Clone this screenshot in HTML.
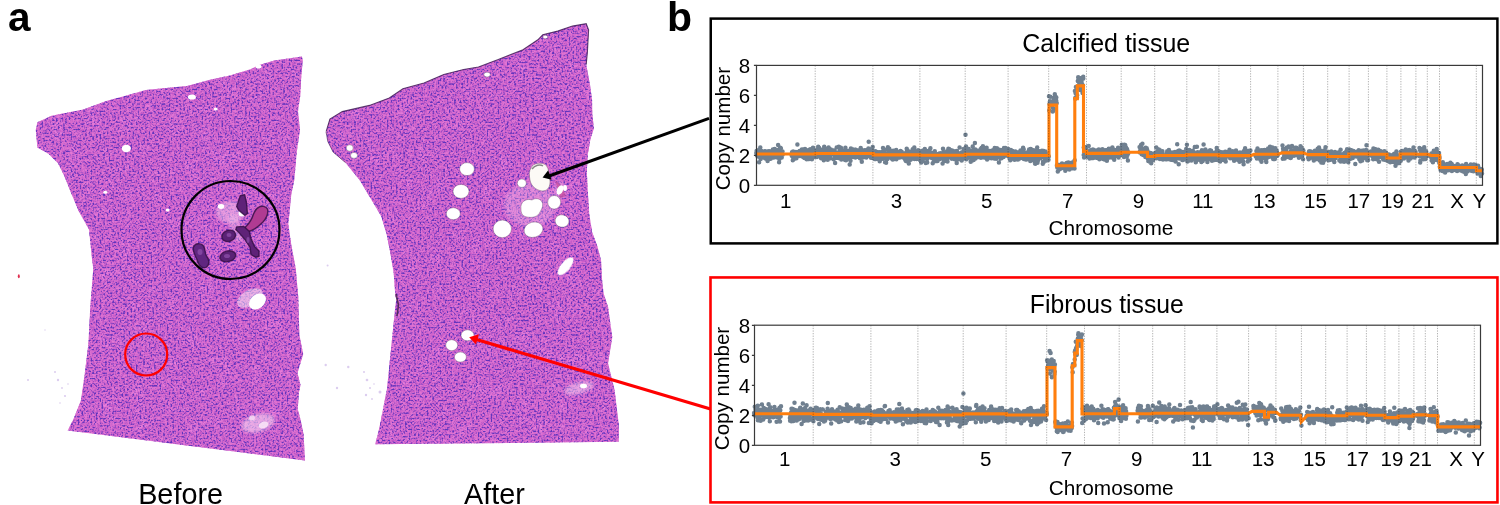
<!DOCTYPE html>
<html><head><meta charset="utf-8"><title>Figure</title>
<style>
html,body{margin:0;padding:0;background:#fff;}
body{width:1500px;height:505px;overflow:hidden;position:relative;}
svg{position:absolute;left:0;top:0;}
text{font-family:"Liberation Sans",Arial,Helvetica,sans-serif;fill:#000;}
</style></head><body>
<svg width="1500" height="505" viewBox="0 0 1500 505">
<defs>
<filter id="tex" color-interpolation-filters="sRGB" x="0" y="0" width="1500" height="505" filterUnits="userSpaceOnUse">
<feTurbulence type="fractalNoise" baseFrequency="0.4" numOctaves="2" seed="4" result="n"/>
<feColorMatrix in="n" type="matrix" values="0 0 0 0 0.76  0 0 0 0 0.34  0 0 0 0 0.78  2.4 0 0 0 -0.85" result="c"/>
<feTurbulence type="fractalNoise" baseFrequency="0.55" numOctaves="1" seed="11" result="n2"/>
<feColorMatrix in="n2" type="matrix" values="0 0 0 0 0.38  0 0 0 0 0.20  0 0 0 0 0.74  4.5 0 0 0 -2.2" result="d"/>
<feMerge result="m"><feMergeNode in="c"/><feMergeNode in="d"/></feMerge>
<feGaussianBlur in="m" stdDeviation="0.6" result="mb"/>
<feComposite in="mb" in2="SourceGraphic" operator="in"/>
</filter>
<filter id="tex2" color-interpolation-filters="sRGB" x="0" y="0" width="1500" height="505" filterUnits="userSpaceOnUse">
<feTurbulence type="fractalNoise" baseFrequency="0.06" numOctaves="2" seed="9" result="n"/>
<feColorMatrix in="n" type="matrix" values="0 0 0 0 0.95  0 0 0 0 0.55  0 0 0 0 0.9  3 0 0 0 -1.55" result="c"/>
<feComposite in="c" in2="SourceGraphic" operator="in"/>
</filter>
<filter id="bl" x="-50%" y="-50%" width="200%" height="200%"><feGaussianBlur stdDeviation="1.6"/></filter>
<filter id="bl1" x="-50%" y="-50%" width="200%" height="200%"><feGaussianBlur stdDeviation="0.7"/></filter>
</defs>
<polygon id="pA" fill="#e074d2" points="35.8,130 37.4,122.2 51.6,115.8 83.3,109.5 106.3,101 123.8,96.2 145.9,89.9 171.3,87.5 187.1,85.9 210.9,79.6 229.9,75.6 250.5,69.3 258.4,65.3 274.2,60.6 290,58.2 301.9,56.6 302.7,60.6 301.1,79.6 300.3,95.4 298,111.3 300,130 297,150 294.3,179.7 291.3,194.5 288.3,224.2 291.3,245 295.8,268.7 298.3,297.6 299.4,335.2 303.2,354 297.5,372.9 300.5,385 299,392 297.7,409.3 300.6,419.7 303.6,434.6 305,460.5 67.7,430.6 73.4,419.3 80.9,400.5 84.7,374 88.4,344 90.3,306.4 93.3,268.8 92,259 89,229.4 78.5,210.8 70.6,191.8 64.3,176 58,163.3 48.5,153.8 37.4,147.5"/>
<polygon id="pB" fill="#e074d2" points="326.2,131.4 329.9,119 342.3,111.6 369.5,105.4 389.3,98 402.9,88.8 424,83.1 443.8,74.4 463.6,69.5 478.5,67 498.3,59.6 523,49.7 537.9,39.8 542.8,34.8 557.7,31.1 572.5,26.1 586.2,23.7 588.6,29.9 587.4,52.1 586.2,64.5 589.9,84.3 592.1,100 592.3,114 593.9,128.6 590.4,139.3 587.9,153.6 586.8,171.4 587.9,192.9 589.3,214.3 592.1,232.1 597.5,246.4 601.1,260.7 602.1,280 603.6,293.6 608,306.7 612.3,337.2 608,363.3 614.5,389.5 618.8,424.4 618.8,441.8 375.2,444.3 379.2,428.4 387,388.8 391,349.2 395,309.6 397,293.8 395.5,298 393.7,273.1 390.1,251.8 386.6,234 381.2,216.2 370.5,198.3 359.9,180.5 345.6,162.7 333.1,152 327.8,141.4"/>
<g filter="url(#tex2)" opacity="0.5"><use href="#pA"/><use href="#pB"/></g>
<g filter="url(#tex)"><use href="#pA"/><use href="#pB"/></g>
<polyline points="326.2,131.4 329.9,119 342.3,111.6 369.5,105.4 389.3,98 402.9,88.8 424,83.1 443.8,74.4 463.6,69.5 478.5,67 498.3,59.6 523,49.7 537.9,39.8 542.8,34.8 557.7,31.1 572.5,26.1 586.2,23.7 588.6,29.9 587.4,52.1 586.2,64.5" fill="none" stroke="#3a1850" stroke-width="1.1" stroke-opacity="0.8"/>
<!-- whitish areas in A -->
<g fill="#fff" filter="url(#bl1)">
<ellipse cx="126.3" cy="148.5" rx="4.5" ry="3.8"/>
<ellipse cx="258.5" cy="66.5" rx="3" ry="2"/>
<ellipse cx="191.9" cy="97" rx="4" ry="2.6"/>
<ellipse cx="215.7" cy="109" rx="2" ry="1.6"/>
<ellipse cx="105.3" cy="192.3" rx="2" ry="1.5"/>
<ellipse cx="167.6" cy="210" rx="2" ry="1.5"/>
<ellipse cx="250" cy="298" rx="14" ry="8" transform="rotate(-30 250 298)" opacity="0.45"/><ellipse cx="257.5" cy="301.5" rx="9.5" ry="6.8" transform="rotate(-40 257.5 301.5)"/>
<ellipse cx="263.5" cy="425" rx="5" ry="3.2" transform="rotate(-20 263.5 425)" opacity="0.9"/>
<ellipse cx="252" cy="418" rx="3" ry="2.5" opacity="0.7"/>
</g>
<!-- calcification area -->
<ellipse cx="230" cy="212" rx="14" ry="11" fill="#f4c4ee" filter="url(#bl)" opacity="0.5"/><ellipse cx="236" cy="228" rx="6" ry="14" fill="#f4c4ee" filter="url(#bl)" opacity="0.4" transform="rotate(-15 236 228)"/>
<g fill="#fff" filter="url(#bl1)">
<ellipse cx="221" cy="206.5" rx="3.2" ry="2.4"/>
<ellipse cx="242" cy="213.5" rx="3.5" ry="3"/>
</g>
<g stroke="#361048" stroke-width="1.4" stroke-opacity="0.85" stroke-linejoin="round" filter="url(#bl1)">
<polygon fill="#5e2278" points="240.3,195.7 244.7,194.8 246.5,202.8 247.4,213.5 244.7,215.3 238.5,210 236.7,206.4"/>
<path fill="#b03a92" d="M258.5,207.5 C261,205.5 266,206 267.5,209 C268.5,213 266.5,218 263,222 C259,226 254,230 249,231.5 C245.5,232 243.5,229.5 246,226.5 C249.5,223 252,219 253.5,214 C255,210.5 256.5,208.5 258.5,207.5 Z"/>
<polygon fill="#5e2478" points="236.7,226.9 243.8,226.4 249.2,231.3 251,238.5 254.5,246.5 259,251 259,256.3 255.4,257.2 251,254.5 250.1,247.4 245.6,240.3 239.4,233.1 235.8,229.6"/>
<ellipse fill="#5a2274" cx="228.7" cy="235.8" rx="7" ry="5.5" transform="rotate(-20 228.7 235.8)"/>
<path fill="#602680" d="M193.5,247 C195,243 201,242.5 203.5,246 C205.5,249 204.5,253 206.5,256 C209.5,259.5 210,265 206,267.3 C202,269 198.5,265 197.5,261 C196.5,257 192,252 193.5,247 Z"/>
<ellipse fill="#5a2274" cx="227.8" cy="256.3" rx="8" ry="5.3" transform="rotate(-15 227.8 256.3)"/>
</g>
<g fill="#9a5ab8" opacity="0.6" filter="url(#bl1)"><ellipse cx="200" cy="252" rx="2.5" ry="3"/><ellipse cx="227" cy="256" rx="3" ry="2"/><ellipse cx="229" cy="235" rx="2.5" ry="2"/><ellipse cx="248" cy="240" rx="1.5" ry="3"/></g>
<circle cx="230.5" cy="230" r="49" fill="none" stroke="#000" stroke-width="2.2"/>
<circle cx="146.2" cy="354.5" r="21" fill="none" stroke="#f00" stroke-width="2.2"/>
<!-- holes in B -->
<g fill="#f6c8f0" opacity="0.3" filter="url(#bl)">
<ellipse cx="530" cy="205" rx="26" ry="22"/>
<ellipse cx="560" cy="190" rx="6" ry="8"/>
</g>
<path d="M555 180 L562 186 L566 196 L560 198 Z" fill="#c04090" opacity="0.6" filter="url(#bl1)"/>
<g fill="#fff" filter="url(#bl1)"><ellipse cx="560" cy="190" rx="3" ry="5" transform="rotate(25 560 190)"/><ellipse cx="565" cy="188" rx="2" ry="3"/></g>
<g fill="#fff" stroke="#5a3a60" stroke-width="0.6" stroke-opacity="0.6">
<ellipse cx="467" cy="169.1" rx="7.4" ry="6.5"/>
<ellipse cx="461" cy="191.4" rx="8" ry="7"/>
<ellipse cx="453.3" cy="213.7" rx="7" ry="6"/>
<ellipse cx="502.3" cy="228.9" rx="9.2" ry="8.8"/>
<path d="M521 209 C520 202 526 198 532 200 C535 198 540 198 542 202 C544 206 541 210 540 212 C538 217 532 218 527 217 C522 216 521 213 521 209 Z"/>
<ellipse cx="533.5" cy="229.7" rx="9.6" ry="7.6" transform="rotate(-15 533.5 229.7)"/>
<ellipse cx="554.2" cy="202.3" rx="6.5" ry="6.8"/>
<ellipse cx="562" cy="221" rx="7" ry="6.2" transform="rotate(10 562 221)"/>
<ellipse cx="521.8" cy="183.2" rx="4.5" ry="4.2"/>
<ellipse cx="467.5" cy="335.3" rx="6.5" ry="5.5"/>
<ellipse cx="451.7" cy="345.2" rx="6" ry="5.5"/>
<ellipse cx="460.4" cy="357.1" rx="6" ry="5"/>
<ellipse cx="349.7" cy="148" rx="3.5" ry="3.2"/>
<ellipse cx="354" cy="155.4" rx="3.5" ry="3"/>
<ellipse cx="487.1" cy="74.6" rx="3.2" ry="2.4"/>
<ellipse cx="545.3" cy="37" rx="2.5" ry="1.8"/>
</g>
<path d="M531 168 C533 163 541 162 546 165 C549 169 550 176 550 182 C550 188 547 191 542 191 C536 190 531 186 530 180 C529 175 529 171 531 168 Z" fill="#fcfaf6" stroke="#6a4a60" stroke-width="0.6" stroke-opacity="0.7"/>
<path d="M532 169 C535 165 540 164 543 166" stroke="#555" stroke-width="1.4" fill="none" opacity="0.7"/>
<ellipse cx="565.6" cy="266.3" rx="11" ry="4.6" fill="#fff" transform="rotate(-50 565.6 266.3)" filter="url(#bl1)"/>
<ellipse cx="579" cy="388" rx="15" ry="6" fill="#f2c8f0" opacity="0.55" filter="url(#bl)" transform="rotate(-15 579 388)"/>
<ellipse cx="583.5" cy="386" rx="3.5" ry="2.2" fill="#fff" filter="url(#bl1)"/>
<ellipse cx="258" cy="423" rx="17" ry="9" fill="#f4d0f2" opacity="0.6" filter="url(#bl)" transform="rotate(-15 258 423)"/>
<!-- debris -->
<g fill="#9a70d0" opacity="0.35">
<circle cx="55" cy="372" r="1"/><circle cx="58" cy="380" r="1.2"/><circle cx="62" cy="388" r="0.9"/><circle cx="65" cy="396" r="1.1"/><circle cx="60" cy="403" r="0.8"/><circle cx="68" cy="384" r="0.8"/>
<circle cx="28" cy="380" r="1"/><circle cx="45" cy="330" r="0.7"/>
<circle cx="327.6" cy="265.6" r="1"/>
<circle cx="325.7" cy="365" r="1.2"/>
<circle cx="348.3" cy="367" r="1.2"/>
<circle cx="337" cy="388" r="1.2"/>
<circle cx="364" cy="372" r="1"/><circle cx="367" cy="380" r="1.3"/><circle cx="370" cy="388" r="1"/><circle cx="366" cy="395" r="1.2"/><circle cx="372" cy="399" r="0.9"/><circle cx="374" cy="384" r="0.8"/>
<circle cx="380" cy="392" r="1.5"/>
</g>
<ellipse cx="18.8" cy="276.3" rx="1" ry="2" fill="#e03050"/>
<path d="M396 294 L398.5 305 L397 316" stroke="#3a1a40" stroke-width="1.6" fill="none" opacity="0.8"/>
<path d="M326,131.7 L327.8,141.4 333.1,152 345.6,162.7" stroke="#3a1850" stroke-width="1" fill="none" opacity="0.6"/>
<!-- arrows -->
<line x1="709" y1="118.3" x2="549" y2="176" stroke="#000" stroke-width="3"/>
<polygon points="542.6,177.6 548.2,170.2 551.6,179.8" fill="#000"/>
<line x1="710.5" y1="409" x2="476.5" y2="339.5" stroke="#f00" stroke-width="3.3"/>
<polygon points="469.2,337.3 479,334.2 476,344.6" fill="#f00"/>

<rect x="710.75" y="18.6" width="786.65" height="224.8" fill="none" stroke="#000" stroke-width="2.5"/><rect x="710.5" y="277.45" width="786.95" height="224.95" fill="none" stroke="#ff0000" stroke-width="2.6"/><path d="M756.3 152.9h0M756.5 152.9h0M756.6 151.1h0M756.9 155.6h0M757 152.8h0M757.4 153.9h0M757.7 156.2h0M757.8 155.4h0M758.1 153.8h0M758.3 156.4h0M758.5 153.9h0M758.9 149.9h0M759.1 162.3h0M759.2 154.5h0M759.6 153.3h0M759.7 154.3h0M760 157.4h0M760.3 147.6h0M760.5 151.9h0M760.6 159h0M761 153.6h0M761.1 156.1h0M761.4 156.9h0M761.7 153.7h0M761.9 155.5h0M762.2 151.2h0M762.4 156.5h0M762.5 155.5h0M762.9 157.3h0M763.1 154h0M763.2 154.9h0M763.6 153.1h0M763.7 157.4h0M764 155.4h0M764.3 151.6h0M764.5 153.2h0M764.7 154.9h0M764.9 151.6h0M765.3 151.2h0M765.5 158.5h0M765.6 155.3h0M765.8 153.4h0M766.1 157.6h0M766.3 151.8h0M766.6 154h0M766.8 152.5h0M767 153.2h0M767.3 154.8h0M767.6 160.9h0M767.8 153.8h0M768 152.9h0M768.3 151.3h0M768.5 151.9h0M768.7 152.8h0M768.9 158.6h0M769.1 154.3h0M769.5 153.5h0M769.6 151.3h0M769.9 153.9h0M770.2 152.5h0M770.5 151.9h0M770.6 158.7h0M770.9 152h0M771.1 157h0M771.3 152.1h0M771.6 155.5h0M771.9 152.3h0M772.1 153.1h0M772.4 156.6h0M772.5 156.9h0M772.8 157.4h0M772.9 149.4h0M773.3 154.1h0M773.5 155.3h0M773.7 152.6h0M773.9 157.5h0M774.3 155.8h0M774.4 156.7h0M774.7 148.9h0M775 153.5h0M775.2 154h0M775.4 154.7h0M775.7 153.2h0M776 151.9h0M776.1 153.3h0M776.3 154.3h0M776.6 153.6h0M776.8 153.4h0M777 151.4h0M777.3 157.6h0M777.6 149.9h0M777.7 153.5h0M778.1 145.1h0M778.3 157.5h0M778.4 153.7h0M778.6 153.4h0M778.9 150.2h0M779.1 162.3h0M779.4 159h0M779.7 153.4h0M780 157.2h0M780.2 147.7h0M780.4 152.8h0M780.5 154h0M780.9 148.2h0M781.1 154.9h0M781.2 156h0M781.6 155.7h0M781.7 157.6h0M782 154.6h0M782.2 153.8h0M782.5 151.6h0M782.7 154.4h0M791.7 155.6h0M792 152.3h0M792.3 156.3h0M792.5 152.7h0M792.8 160.2h0M792.9 153.1h0M793.1 151.6h0M793.4 157.4h0M793.6 154.5h0M793.9 158.9h0M794.1 155.8h0M794.4 152h0M794.5 152.9h0M794.7 154.1h0M795 156.3h0M795.3 155.4h0M795.5 153.7h0M795.9 154.7h0M795.9 152h0M796.3 157.1h0M796.4 158.2h0M796.7 154.1h0M796.9 156.8h0M797.2 152.9h0M797.4 144.4h0M797.6 156.2h0M797.9 154.1h0M798.2 152h0M798.5 155.3h0M798.7 152.4h0M798.8 152.6h0M799.2 156h0M799.4 154.6h0M799.6 150.9h0M799.8 151.5h0M800.1 153.1h0M800.3 151.9h0M800.5 154.9h0M800.8 154.4h0M801 156.1h0M801.3 154.9h0M801.5 153.9h0M801.7 151h0M801.9 149.5h0M802.1 156.5h0M802.5 154.3h0M802.6 154.1h0M802.9 149.6h0M803.1 155.9h0M803.3 155.1h0M803.7 157.2h0M803.8 154.5h0M804.1 151h0M804.4 153.9h0M804.5 158.1h0M804.7 154h0M805 149h0M805.3 153.1h0M805.5 152.1h0M805.7 155.5h0M806 152.1h0M806.2 156.4h0M806.4 151.2h0M806.7 159.2h0M807 152.7h0M807.2 155h0M807.5 157.2h0M807.6 155.5h0M807.9 150.8h0M808.1 154.1h0M808.3 150.3h0M808.6 157.7h0M808.8 151.6h0M809.1 159.1h0M809.3 149.8h0M809.6 157.7h0M809.7 150.8h0M810 152.3h0M810.2 149.3h0M810.5 150.9h0M810.7 154.5h0M810.9 150.4h0M811.3 156.3h0M811.4 151.6h0M811.8 154.7h0M811.9 159.2h0M812.2 153.2h0M812.4 151.7h0M812.6 155.7h0M813 147.8h0M813.1 152.2h0M813.3 152.8h0M813.7 157.1h0M813.9 151.6h0M814.1 155h0M814.3 150.7h0M814.5 156.2h0M814.7 153.6h0M815 153.8h0M815.2 152h0M815.3 155h0M815.6 155.4h0M815.8 152.2h0M815.9 155.1h0M816.2 152.9h0M816.5 155.6h0M816.8 153.3h0M816.9 157h0M817.3 155.6h0M817.4 149.2h0M817.6 152.4h0M817.9 153.3h0M818.2 146.8h0M818.3 154.4h0M818.7 155h0M818.8 154.1h0M819 147.8h0M819.4 149.3h0M819.6 153.3h0M819.9 151.3h0M820.1 152.7h0M820.4 154.2h0M820.6 153h0M820.7 156.3h0M821.1 158.3h0M821.2 151.6h0M821.4 152.6h0M821.6 155.6h0M821.9 151.9h0M822.1 152.3h0M822.4 153.8h0M822.7 149.5h0M823 156.1h0M823.2 153h0M823.3 152.7h0M823.5 154.7h0M823.8 160.2h0M824.1 153.4h0M824.2 146.7h0M824.5 156.9h0M824.7 150h0M825 151.4h0M825.3 152.7h0M825.5 155.4h0M825.8 157.5h0M826 154h0M826.2 152.7h0M826.4 156.8h0M826.7 151.7h0M826.9 148.7h0M827.1 155.9h0M827.5 149.1h0M827.7 159.7h0M827.9 155.3h0M828.2 151.6h0M828.4 157.4h0M828.6 147.6h0M828.8 150.4h0M829 150.4h0M829.3 151.2h0M829.6 150h0M829.8 156.9h0M829.9 149.7h0M830.2 155.2h0M830.4 158.2h0M830.8 149.4h0M830.9 152.7h0M831.2 152.8h0M831.4 150.7h0M831.7 150.6h0M831.9 153h0M832.1 154h0M832.4 150.2h0M832.6 152.9h0M832.8 152.3h0M833.2 151.4h0M833.4 153.4h0M833.6 159.2h0M833.8 153.9h0M834 151.3h0M834.2 150.5h0M834.5 155.7h0M834.7 156.4h0M835 156.8h0M835.1 163.1h0M835.5 154.5h0M835.6 158.1h0M835.8 155.2h0M836.1 152.3h0M836.5 156.2h0M836.7 147.6h0M838.1 152.5h0M838.2 153.6h0M838.5 157.9h0M838.8 146.7h0M839 153.5h0M839.2 153.1h0M839.4 154.3h0M839.8 151.2h0M840 148.1h0M840.2 154.5h0M840.5 156.1h0M840.7 154.5h0M840.9 147.7h0M841.2 154.5h0M841.3 159.4h0M841.6 150.5h0M841.9 155h0M842.2 151.4h0M842.3 152.2h0M842.5 153.4h0M842.9 155.8h0M843.1 159.1h0M843.2 155.2h0M843.6 153h0M843.7 156.8h0M844.1 154.8h0M844.2 158h0M844.4 150.3h0M844.8 154.3h0M844.9 152.9h0M845.2 160h0M845.4 147.8h0M845.7 149.9h0M846 160.2h0M846.2 154.8h0M846.3 151h0M846.7 155.1h0M846.8 156.2h0M847.1 156.4h0M847.4 156.9h0M847.6 152.7h0M847.7 156.1h0M848.1 150.9h0M848.2 156.8h0M848.5 152h0M848.6 154.5h0M849 155.8h0M849.2 158.8h0M849.4 155.2h0M849.7 164.6h0M849.9 155.2h0M850.1 155.3h0M850.5 160.7h0M850.7 156.9h0M850.9 148.6h0M851.2 155.3h0M851.3 157.1h0M851.6 153.5h0M851.9 150.5h0M852 154.7h0M852.2 156h0M852.5 155.4h0M852.8 150.4h0M852.9 150.9h0M853.3 149.5h0M853.5 152.6h0M853.7 157.1h0M854.1 152.7h0M854.3 151.7h0M854.5 154.1h0M854.6 155.2h0M854.9 150.5h0M855.2 149.8h0M855.4 157.6h0M855.7 157.2h0M855.8 149.8h0M856.2 155.4h0M856.4 152.9h0M856.6 153.1h0M856.7 155.3h0M857 153h0M857.3 156.1h0M857.6 152.9h0M857.7 156.7h0M858.1 150.6h0M858.2 155.9h0M858.6 153.7h0M858.6 154.7h0M859 154.3h0M859.1 154.3h0M859.4 154.4h0M859.7 155.6h0M860 158.3h0M860.1 153.8h0M860.4 157.3h0M860.5 153.4h0M860.7 147.9h0M861.1 157.2h0M861.2 149.5h0M861.5 155.7h0M861.8 161.7h0M861.9 150.7h0M862.3 153.2h0M862.4 151.8h0M862.7 157.5h0M863 155h0M863.2 153.6h0M863.5 156.4h0M863.8 155.6h0M864 153.9h0M864.1 155.5h0M864.4 150.3h0M864.6 154.5h0M864.8 152.8h0M865.2 153h0M865.4 152.2h0M865.6 151.8h0M865.8 152.8h0M866 154.4h0M866.3 157.4h0M866.5 153.8h0M866.7 151.6h0M867 149.9h0M867.2 153.5h0M867.4 155h0M867.8 150.8h0M867.9 154.8h0M868.1 153.3h0M868.4 148.6h0M868.7 141.8h0M868.8 154.7h0M869.1 151.2h0M869.3 155.6h0M869.7 153.4h0M869.9 149.2h0M870.2 156.6h0M870.4 152.8h0M870.6 152.7h0M870.8 152.2h0M871 157.7h0M871.2 152.8h0M871.5 154.2h0M871.7 149.5h0M872.1 155.9h0M872.3 152.4h0M872.4 154.6h0M872.7 146.9h0M872.9 153.3h0M873.2 152.7h0M873.5 158.3h0M873.6 157.5h0M874 151.5h0M874.1 155.3h0M874.4 155.1h0M874.7 159h0M875 155.8h0M875.2 155.3h0M875.4 151.2h0M875.6 159.1h0M875.9 159.1h0M876.1 154.4h0M876.3 151.8h0M876.5 156.1h0M876.9 155.3h0M877 154.3h0M877.3 155.7h0M877.6 156.2h0M877.7 157.3h0M878 154.6h0M878.1 152.6h0M878.5 152.5h0M878.7 159.2h0M879 152.4h0M879.1 152.7h0M879.3 152.2h0M879.7 161.2h0M879.9 153.8h0M880.1 152.8h0M880.3 154.8h0M880.6 157.9h0M880.7 156.3h0M881 153.1h0M881.3 152.3h0M881.5 154.8h0M881.7 155.6h0M882 158.3h0M882.2 158.7h0M882.5 152.2h0M882.6 152.9h0M883 148h0M883.3 157.2h0M883.4 152.2h0M883.6 151.5h0M883.8 155.6h0M884.1 157.9h0M884.5 152h0M884.6 155.9h0M884.7 155.9h0M885.1 162.2h0M885.4 156.1h0M885.5 154.3h0M885.7 154.9h0M886.1 162.7h0M886.2 149.7h0M886.4 155.7h0M886.7 157.6h0M887 159.2h0M887.3 158.9h0M887.4 154.9h0M887.6 153.9h0M887.9 147.2h0M888.2 155h0M888.4 155.6h0M888.7 154.6h0M888.9 152.9h0M889.2 156.6h0M889.3 148.8h0M889.5 153.4h0M889.8 150.6h0M890.1 156.3h0M890.3 155.8h0M890.5 155.2h0M890.7 154h0M891 153.1h0M891.2 152h0M891.5 158.6h0M891.7 157.4h0M892 152.4h0M892.3 156.5h0M892.4 154.3h0M892.7 159.4h0M892.9 159.6h0M893.2 150.7h0M893.3 153.3h0M893.6 156.7h0M895.3 151.3h0M895.5 155.2h0M895.8 154.4h0M896 157.3h0M896.2 150.1h0M896.4 159.2h0M896.8 158.3h0M897 155.6h0M897.3 156.7h0M897.5 157.7h0M897.7 152.3h0M898 157.4h0M898.2 153.5h0M898.3 155.6h0M898.6 156.1h0M898.8 156.6h0M899.2 154.7h0M899.3 155.5h0M899.6 157.6h0M899.8 157.5h0M900 153.7h0M900.3 152.1h0M900.6 150.9h0M900.7 157.2h0M901 154.6h0M901.2 156.5h0M901.4 152.9h0M901.8 154.9h0M901.8 152.1h0M902.2 153.3h0M902.4 154.8h0M902.5 154.6h0M902.9 154.6h0M903.2 153.9h0M903.3 155.4h0M903.5 153.5h0M903.8 157.8h0M904.1 154h0M904.2 155.9h0M904.5 154.1h0M904.8 156.9h0M905.1 153.7h0M905.2 159.7h0M905.5 160.2h0M905.8 157.4h0M905.9 160.9h0M906.2 152.5h0M906.4 153h0M906.7 148.7h0M907 151h0M907.1 155.7h0M907.4 150.3h0M907.6 156.3h0M907.8 151.5h0M908.1 154.9h0M908.4 151.3h0M908.5 160.4h0M908.8 163.5h0M908.9 158.2h0M909.4 154.3h0M909.4 156.4h0M909.8 154.3h0M909.9 152.9h0M910.2 152.7h0M910.5 159.8h0M910.8 151.7h0M911 156.9h0M911.2 159.1h0M911.3 153.3h0M911.6 156.2h0M911.9 156.6h0M912.1 156.2h0M912.4 154.7h0M912.6 155.8h0M912.7 149.2h0M913 153.8h0M913.2 152.3h0M913.5 150.4h0M913.8 156.5h0M914.1 153.6h0M914.3 147.6h0M914.4 158.4h0M914.6 158.9h0M914.9 152.6h0M915.2 158h0M915.5 157.8h0M915.6 152.9h0M915.9 155.3h0M916.1 154.2h0M916.4 155.4h0M916.6 158.9h0M916.9 157h0M917.1 151.1h0M917.2 154.4h0M917.5 154h0M917.8 152.7h0M918.1 150.2h0M918.3 155.2h0M918.6 158.2h0M918.7 153.4h0M918.9 152.3h0M919.3 151.5h0M919.5 155h0M919.7 155.6h0M920 160.1h0M920.2 151.6h0M920.3 156.2h0M920.6 158.5h0M920.9 153.6h0M921.2 162.4h0M921.4 153h0M921.6 156.8h0M921.8 158.2h0M922 152.9h0M922.4 161.1h0M922.6 150.8h0M922.7 152.9h0M923 156.3h0M923.2 154.2h0M923.4 156.2h0M923.6 158.8h0M924.1 157h0M924.3 151h0M924.5 152.1h0M924.6 153h0M924.8 149.1h0M925.2 155.6h0M925.4 156.3h0M925.6 154.4h0M925.8 163h0M926 153.9h0M926.4 155.8h0M926.6 152.2h0M926.8 150.9h0M927 159.1h0M927.2 162.6h0M927.5 151.6h0M927.7 155h0M928 154.6h0M928.2 154.6h0M928.5 153.1h0M928.8 152.3h0M928.9 152.7h0M929.2 156.6h0M929.5 152.6h0M929.6 150.3h0M929.8 156.9h0M930.2 155h0M930.4 148.3h0M930.6 156.9h0M930.9 153.6h0M931.1 157.8h0M932.6 153.3h0M932.7 163.2h0M933 155.9h0M933.3 152.7h0M933.4 158.3h0M933.8 160.9h0M934 155.9h0M934.2 156.1h0M934.4 154.4h0M934.6 151.9h0M934.8 151.2h0M935.1 161h0M935.4 158.2h0M935.6 158.4h0M935.9 156.1h0M936.1 157.4h0M936.3 155.1h0M936.5 161h0M936.7 159.1h0M937 155.6h0M937.3 156.6h0M937.5 161h0M937.8 157.8h0M937.9 155.4h0M938.3 155.8h0M938.4 154.1h0M938.7 156.6h0M938.9 158.5h0M939.1 155.4h0M939.3 153.7h0M939.7 154.7h0M940 158.9h0M940.2 156.2h0M940.3 153.2h0M940.7 155.1h0M940.8 158.6h0M941.2 156.1h0M941.3 155h0M941.5 153.4h0M941.8 157.1h0M942.1 153.4h0M942.2 156.9h0M942.6 154.7h0M942.6 163.5h0M943 148.8h0M943.2 153.6h0M943.5 152.1h0M943.7 157.8h0M944 157.4h0M944.2 161h0M944.5 152.8h0M944.6 154.8h0M944.8 158.5h0M945 158.6h0M945.3 158.3h0M945.6 157.3h0M945.8 160h0M946 155.5h0M946.2 155.2h0M946.6 153h0M946.8 157.1h0M947 158.6h0M947.2 151.1h0M947.5 161.4h0M947.8 157.7h0M947.9 158h0M948.2 154.1h0M948.4 148.8h0M948.7 151.2h0M948.8 156.5h0M949.2 149.1h0M949.4 151.7h0M949.6 153.5h0M949.9 149.8h0M950 153h0M950.3 155.8h0M950.4 150.4h0M950.7 155.3h0M951 157.2h0M951.3 156.5h0M951.5 157.6h0M951.8 158.1h0M951.9 158.8h0M952.1 150.4h0M952.4 157.4h0M952.7 157.3h0M952.8 157.1h0M953.1 151.1h0M953.5 151.4h0M953.6 154.6h0M953.8 155.6h0M954.2 155.5h0M954.4 152.7h0M954.5 151.4h0M954.8 159.3h0M955.1 151.4h0M955.4 152.2h0M955.4 156.9h0M955.8 156.4h0M955.9 154.6h0M956.2 156.1h0M956.4 156.5h0M956.7 163h0M956.9 151.1h0M957.2 156.4h0M957.4 159.1h0M957.7 159.5h0M957.8 154.1h0M958.1 153.7h0M958.3 153.8h0M958.5 156.1h0M958.9 158.4h0M959.2 156.6h0M959.4 158.5h0M959.6 147.6h0M959.8 157.4h0M960.1 153.3h0M960.2 153.5h0M960.5 156.4h0M960.7 156.7h0M961 155.2h0M961.3 153.9h0M961.4 154.3h0M961.7 160.6h0M961.9 153.9h0M962.1 152.3h0M962.3 157h0M962.7 155.3h0M962.8 158.7h0M963.1 152.3h0M963.3 156.9h0M963.7 152.7h0M963.7 149h0M964.1 154.2h0M964.3 154.1h0M964.6 157.7h0M964.8 156.6h0M964.9 157.6h0M965.2 155.5h0M965.5 157.4h0M965.8 155.8h0M966 146.5h0M966.2 149.1h0M966.4 159.2h0M966.6 159.1h0M967 155h0M967.2 152.1h0M967.4 155.6h0M967.6 154.1h0M967.9 153.5h0M968.1 154.6h0M968.3 157.7h0M968.7 149h0M968.9 152.2h0M969.1 153.2h0M969.3 155.2h0M969.5 153.3h0M969.7 152.5h0M970 152h0M970.2 156.2h0M970.5 152.1h0M970.7 161.7h0M971 154.9h0M971.1 151.6h0M971.5 155.5h0M971.7 158.3h0M971.9 152.9h0M972.3 160.6h0M972.5 156.1h0M972.7 146.6h0M972.9 151.3h0M973.1 150.3h0M973.4 158.3h0M973.6 160h0M973.8 151.9h0M974 154.4h0M974.4 150.4h0M974.5 151.8h0M974.8 155.4h0M974.9 156.1h0M975.3 149.5h0M975.5 158.5h0M975.6 152.3h0M975.9 150.7h0M977.1 156.3h0M977.4 150.8h0M977.7 154.6h0M977.9 153.1h0M978 151.8h0M978.3 157h0M978.5 157h0M978.8 156.5h0M979.1 157.1h0M979.3 156.4h0M979.6 153.1h0M979.7 152.8h0M980 153h0M980.2 154.6h0M980.4 152.2h0M980.7 149h0M980.9 157.7h0M981.1 150.7h0M981.5 152.1h0M981.7 147.8h0M981.9 149.6h0M982.1 155.7h0M982.4 149.7h0M982.7 156.9h0M982.9 146.3h0M983 149.9h0M983.4 150.3h0M983.6 154.9h0M983.7 152.5h0M984 153.4h0M984.3 157.6h0M984.6 154.3h0M984.7 152.7h0M985 152.6h0M985.3 153.9h0M985.4 150h0M985.7 155.2h0M986 154.5h0M986.2 156h0M986.4 156h0M986.6 147.8h0M986.9 155.3h0M987.1 159.6h0M987.4 152.6h0M987.5 159h0M987.8 157.4h0M988 150.7h0M988.3 155.2h0M988.5 150.8h0M988.8 155.2h0M989.1 151.9h0M989.2 155.1h0M989.4 154.4h0M989.7 156.2h0M989.9 152.2h0M990.2 154.9h0M990.4 154.4h0M990.8 153.6h0M991 153.7h0M991.2 151.2h0M991.4 158.2h0M991.6 156.4h0M991.9 152.6h0M992.1 153.4h0M992.3 150.4h0M992.6 152.5h0M992.7 151.6h0M993 152.1h0M993.2 153.5h0M993.6 153.5h0M993.8 153.9h0M993.9 156.6h0M994.3 158.6h0M994.5 158.1h0M994.7 148h0M994.9 148.2h0M995.1 152.4h0M995.4 156.8h0M995.7 155.7h0M995.9 151.8h0M996.1 158.8h0M996.4 156.4h0M996.5 157.4h0M996.9 148.2h0M997.1 152.1h0M997.2 157.4h0M997.5 149.7h0M997.7 149.1h0M998.1 156.4h0M998.3 153h0M998.4 155.3h0M998.6 155.9h0M998.9 162.6h0M999.1 155.7h0M999.5 152.4h0M999.7 152.9h0M999.9 152.3h0M1000.1 150.1h0M1000.4 155h0M1000.6 158.5h0M1000.9 153.7h0M1001 150.4h0M1001.4 158.2h0M1001.5 150.3h0M1001.7 157.2h0M1002.1 154.5h0M1002.4 154.2h0M1002.5 152.5h0M1002.8 154.7h0M1003 154.6h0M1003.3 153.3h0M1003.5 157h0M1003.7 154.3h0M1004 147.9h0M1004.1 151.8h0M1004.3 153.8h0M1004.6 154.4h0M1004.9 153.5h0M1005.1 154.9h0M1005.4 148.1h0M1005.7 155.5h0M1005.9 150.4h0M1006.1 150.2h0M1006.4 154.3h0M1006.6 150.5h0M1006.7 152.9h0M1007 155.5h0M1007.3 151.3h0M1007.5 155.3h0M1007.7 153.8h0M1008 155.5h0M1008.2 149.1h0M1008.4 156h0M1008.7 156.1h0M1009 155.2h0M1009.1 153.5h0M1009.3 155.9h0M1009.5 158h0M1009.8 152.9h0M1010.2 159.2h0M1010.3 160.2h0M1010.5 160h0M1010.9 149.9h0M1011.1 151.4h0M1011.3 153.1h0M1011.5 155.5h0M1011.7 156.3h0M1011.9 154.2h0M1012.3 158h0M1012.5 155.3h0M1012.6 151.1h0M1013 157.2h0M1013.2 152h0M1013.4 156.4h0M1013.6 156.4h0M1013.8 151.4h0M1014.2 156.3h0M1014.4 156.4h0M1014.6 159.7h0M1014.9 155.3h0M1015.1 152.2h0M1015.4 151.4h0M1015.5 154h0M1015.7 154.7h0M1016 155.2h0M1016.2 158h0M1016.6 152.5h0M1016.6 153.8h0M1017 156.5h0M1017.1 155.5h0M1017.4 155.2h0M1017.6 157.1h0M1018 159.6h0M1018.1 154.6h0M1018.4 155.9h0M1018.6 152.2h0M1018.9 154.4h0M1019.2 155.5h0M1019.4 157.7h0M1019.6 158.5h0M1019.9 157.1h0M1020 154.9h0M1020.3 156.6h0M1020.5 150.5h0M1020.9 155.1h0M1021 151.7h0M1021.2 151.9h0M1021.5 155h0M1021.7 157.7h0M1021.9 156.2h0M1023.1 147.7h0M1023.3 151.9h0M1023.7 149.3h0M1023.9 159.1h0M1024 158.3h0M1024.2 154.9h0M1024.5 152.5h0M1024.8 154.2h0M1025 157.5h0M1025.3 158h0M1025.5 153.2h0M1025.8 159.5h0M1026.1 158.6h0M1026.1 156.7h0M1026.4 159.4h0M1026.7 157.6h0M1026.9 157.4h0M1027.3 155h0M1027.3 155.9h0M1027.7 152.3h0M1028 154.8h0M1028.2 157.8h0M1028.4 157.5h0M1028.6 151.6h0M1028.8 154.1h0M1029.1 149.4h0M1029.2 157h0M1029.4 158.2h0M1029.7 154.8h0M1030.1 154.5h0M1030.3 161h0M1030.4 158.1h0M1030.8 149.1h0M1030.9 156h0M1031.2 159.3h0M1031.4 152.3h0M1031.7 155h0M1031.9 152.3h0M1032.1 155h0M1032.4 152.6h0M1032.6 158.7h0M1032.9 160h0M1033.2 154.9h0M1033.3 158.3h0M1033.5 150.9h0M1033.7 150.2h0M1034 159.8h0M1034.4 151.8h0M1034.6 161.2h0M1034.8 155.9h0M1035 163.5h0M1035.3 163.7h0M1035.5 152.8h0M1035.7 161h0M1036 150.5h0M1036.1 157.3h0M1036.4 153.7h0M1036.7 154.4h0M1036.9 153.1h0M1037.2 147.4h0M1037.5 162.8h0M1037.6 154.5h0M1037.8 161h0M1038.1 156.5h0M1038.3 155.8h0M1038.6 151.1h0M1038.9 158.8h0M1039 157.4h0M1039.2 156.7h0M1039.5 158.2h0M1039.8 152.9h0M1040 155.7h0M1040.2 158.2h0M1040.5 157.1h0M1040.7 155.9h0M1041 155.2h0M1041.3 155h0M1041.4 155.3h0M1041.5 156.4h0M1041.9 153.2h0M1042 150.8h0M1042.3 156.7h0M1042.5 156.2h0M1042.8 163.7h0M1043.1 161.4h0M1043.4 151.5h0M1043.6 162.3h0M1043.8 150.9h0M1044.1 151.7h0M1044.3 151.9h0M1044.5 153.5h0M1044.7 151.6h0M1045 157.7h0M1045.1 153.2h0M1045.4 151.6h0M1045.7 153.2h0M1046 153h0M1046.2 155.8h0M1046.4 160.5h0M1046.6 155.7h0M1046.9 153.7h0M1047.2 158.1h0M1047.2 155.7h0M1047.5 155.8h0M1047.8 157.4h0M1048 154.7h0M1048.2 157.9h0M1048.5 159.8h0M1048.8 156.4h0M1049 96.3h0M1049.2 110.4h0M1049.5 104h0M1049.8 102h0M1050 101.3h0M1050.2 96.8h0M1050.5 105h0M1050.6 103.5h0M1050.9 103.6h0M1051.1 105.2h0M1051.4 103h0M1051.6 105.8h0M1051.9 106.1h0M1052.2 101.8h0M1052.4 104.3h0M1052.6 107.3h0M1052.7 111.5h0M1053.1 102.9h0M1053.4 110.8h0M1053.6 97.8h0M1053.7 98.3h0M1054 99.8h0M1054.1 109h0M1054.5 99.3h0M1054.8 94.3h0M1055 103.1h0M1055.2 100.9h0M1055.5 104h0M1055.6 96.7h0M1055.9 100.5h0M1056.2 100.6h0M1056.3 97.5h0M1056.7 102.9h0M1056.9 165.3h0M1057 166h0M1057.3 167.5h0M1057.6 164.7h0M1057.8 171.6h0M1058.1 166h0M1058.3 165.5h0M1058.5 168.7h0M1058.7 167h0M1059 165.9h0M1059.2 165.4h0M1059.4 164.9h0M1059.7 169.2h0M1059.9 166.9h0M1060.1 164.9h0M1060.4 165.2h0M1060.6 166.1h0M1060.9 167.2h0M1061.2 165.3h0M1061.4 168.3h0M1061.6 164.7h0M1061.7 166.5h0M1062 163.6h0M1062.3 166.1h0M1063.5 164.7h0M1063.7 165h0M1063.9 166.6h0M1064.3 167.9h0M1064.4 167.2h0M1064.8 166.1h0M1064.8 164.8h0M1065.2 169h0M1065.3 170.7h0M1065.6 164h0M1065.9 166.2h0M1066.2 163.6h0M1066.3 167.9h0M1066.5 165.2h0M1066.7 162.9h0M1067.1 165.1h0M1067.2 162.9h0M1067.6 167.6h0M1067.7 167.1h0M1068 162.8h0M1068.2 167.4h0M1068.4 162.5h0M1068.8 163.9h0M1068.8 166.5h0M1069.1 166.5h0M1069.4 169.4h0M1069.7 165.3h0M1069.9 163.2h0M1070.2 164h0M1070.3 167.4h0M1070.7 164.8h0M1070.9 164.5h0M1071.2 162.9h0M1071.3 166.6h0M1071.6 163.1h0M1071.7 165.8h0M1072.1 168.3h0M1072.3 162.6h0M1072.4 166.8h0M1072.7 163.4h0M1073 163.3h0M1073.1 164.7h0M1073.5 163.1h0M1073.6 164h0M1073.8 165.8h0M1074.2 161.2h0M1074.5 168.5h0M1074.7 160.3h0M1074.9 91h0M1075.2 98.7h0M1075.4 97.8h0M1075.6 93.3h0M1075.9 87.1h0M1076.1 98.1h0M1076.4 94.6h0M1076.6 89.4h0M1076.7 96.5h0M1077 97.7h0M1077.2 95.3h0M1077.5 87.4h0M1077.8 81h0M1077.9 86.3h0M1078.2 77.3h0M1078.4 78.3h0M1078.7 78.3h0M1078.8 82.1h0M1079.1 80h0M1079.3 83.5h0M1079.6 79.1h0M1079.8 78h0M1080.1 83.9h0M1080.3 89.9h0M1080.6 83.8h0M1080.9 85.8h0M1081 88.5h0M1081.3 80.6h0M1081.5 81.2h0M1081.7 86.6h0M1081.9 83.7h0M1082.2 86.4h0M1082.4 90.5h0M1082.6 93h0M1083 85.6h0M1083.2 76.7h0M1083.3 78.5h0M1083.7 155h0M1083.8 147.6h0M1084.1 157.6h0M1084.4 148.3h0M1084.6 148.7h0M1084.8 152h0M1085 148.7h0M1085.4 150.6h0M1085.6 153.4h0M1085.7 152.4h0M1086.1 151.3h0M1086.2 149.4h0M1086.5 146.9h0M1086.8 155h0M1087 152.9h0M1087.3 156.7h0M1087.6 154.9h0M1087.6 153.6h0M1088 153h0M1088.2 155.1h0M1088.5 155.7h0M1088.7 146.1h0M1088.8 154.9h0M1089.1 152.3h0M1089.4 153.4h0M1089.5 158.6h0M1089.8 153.6h0M1090.1 151h0M1090.3 153h0M1090.6 150.3h0M1090.8 154.4h0M1090.9 151.7h0M1091.3 155.8h0M1091.4 157.9h0M1091.8 156.3h0M1092 154.2h0M1092.2 153h0M1092.4 153.5h0M1092.6 158h0M1092.9 149.4h0M1093.2 158h0M1093.4 155.6h0M1093.6 152h0M1094 151.4h0M1094.1 153.5h0M1094.4 153.1h0M1094.5 155.4h0M1094.8 150.6h0M1095.1 152.2h0M1095.2 153.7h0M1095.4 151.6h0M1095.8 152.3h0M1095.9 156.7h0M1096.2 155.8h0M1096.5 157.7h0M1096.7 150.4h0M1097.9 153.8h0M1098.1 157.6h0M1098.5 151.8h0M1098.7 152.8h0M1098.8 149.6h0M1099.1 151.4h0M1099.4 159.3h0M1099.5 151.3h0M1099.7 156.8h0M1100.1 152.1h0M1100.3 155h0M1100.4 154.6h0M1100.7 152.4h0M1101 154.3h0M1101.3 151.7h0M1101.5 153.7h0M1101.8 155.8h0M1102 157.8h0M1102.2 155.2h0M1102.4 149.3h0M1102.6 155.6h0M1102.9 152.8h0M1103.2 159.1h0M1103.3 151.7h0M1103.5 155.6h0M1103.9 152.7h0M1104 151.6h0M1104.4 159.4h0M1104.5 154.9h0M1104.7 159.6h0M1105 154.9h0M1105.3 150.3h0M1105.6 155.2h0M1105.8 156.7h0M1106 154.1h0M1106.3 151.4h0M1106.4 150.3h0M1106.8 154h0M1106.9 160.8h0M1107.1 155.6h0M1107.4 156.6h0M1107.7 153.5h0M1108 152.5h0M1108.2 150.3h0M1108.3 151.1h0M1108.5 154.6h0M1108.8 148.8h0M1109.1 154.9h0M1109.3 153.3h0M1109.4 157.6h0M1109.9 153.8h0M1109.9 150.3h0M1110.2 156.3h0M1110.5 150.8h0M1110.8 151.1h0M1111 151.8h0M1111.2 151.2h0M1111.5 151.8h0M1111.6 148.4h0M1111.9 157.5h0M1112.2 151.3h0M1112.4 147.4h0M1112.7 156.5h0M1112.9 151.3h0M1113.1 156.6h0M1113.3 149.6h0M1113.6 154.4h0M1113.7 151.2h0M1114 150.7h0M1114.2 159.7h0M1114.5 152.5h0M1114.8 154.2h0M1115 152.5h0M1115.3 151.6h0M1115.4 153.4h0M1115.7 150.7h0M1116 156h0M1116.2 150h0M1116.5 155.5h0M1116.7 152h0M1116.8 149.8h0M1117 151.5h0M1117.4 155.1h0M1117.6 152.9h0M1117.9 156h0M1118.1 147.8h0M1118.3 151.1h0M1118.6 157.5h0M1118.7 148.3h0M1118.9 151.5h0M1119.2 150.1h0M1119.4 151.2h0M1119.8 154.2h0M1119.9 153.8h0M1120.2 154h0M1120.5 148.6h0M1120.7 154.5h0M1121 149.2h0M1121.1 154.8h0M1121.2 150.2h0M1121.4 152.6h0M1121.8 144.7h0M1121.9 151h0M1122.3 150.4h0M1122.5 149.6h0M1122.6 151.8h0M1122.8 153.9h0M1123.2 153.6h0M1123.4 145.8h0M1123.5 151.2h0M1123.9 156h0M1124 157h0M1124.4 144.7h0M1124.6 150.5h0M1124.8 150.5h0M1125.1 151.4h0M1125.2 145.1h0M1125.6 153.2h0M1125.8 155.9h0M1126 147.4h0M1126.3 149.8h0M1126.4 150.8h0M1126.8 156.7h0M1127 149.1h0M1127.2 152.1h0M1127.4 155.1h0M1127.6 151.1h0M1127.9 160.5h0M1128.2 153.6h0M1128.3 152.5h0M1139.6 152.3h0M1139.6 147.1h0M1140.1 151.4h0M1140.3 150.3h0M1140.4 152.7h0M1140.8 149.7h0M1141 145h0M1141.1 150h0M1141.4 148.1h0M1141.7 154.2h0M1141.8 149.8h0M1142.2 148.5h0M1142.4 143.8h0M1142.7 150.5h0M1142.8 148.6h0M1143.2 155.1h0M1143.2 149.5h0M1143.5 151h0M1143.9 151.7h0M1144 150.2h0M1144.2 154.6h0M1144.5 153.4h0M1144.7 153.4h0M1145 155.6h0M1145.2 154.3h0M1145.4 157h0M1145.6 153.4h0M1145.8 147.7h0M1146.2 150.5h0M1146.3 150h0M1146.7 148.2h0M1146.9 150.5h0M1147 149.2h0M1147.3 150.4h0M1147.6 154.5h0M1147.8 158.4h0M1148.1 152.2h0M1148.3 160.9h0M1148.5 159.4h0M1148.8 158h0M1149.1 158.5h0M1149.3 157.7h0M1149.5 155.1h0M1149.7 155.2h0M1149.9 161.7h0M1150.2 154.3h0M1150.5 157.1h0M1150.6 153h0M1150.8 157.1h0M1151.2 163.3h0M1151.3 154.8h0M1151.6 154.7h0M1151.8 155.7h0M1152 154.3h0M1152.3 158.7h0M1152.6 157.3h0M1152.9 160.3h0M1153 160.3h0M1153.2 154.9h0M1153.5 158.3h0M1153.7 155.1h0M1154 153.6h0M1154.1 157.6h0M1154.5 154.4h0M1154.6 156.5h0M1154.8 153.6h0M1154.9 154.9h0M1155.1 158h0M1155.5 158h0M1155.7 152.4h0M1155.9 156h0M1156.2 152.4h0M1156.3 147.5h0M1156.6 158.2h0M1156.8 156.1h0M1157.2 151.7h0M1157.4 153.3h0M1157.6 152.3h0M1157.8 156.2h0M1158.1 151.2h0M1158.4 151.6h0M1158.6 155.3h0M1158.8 149.4h0M1158.9 154.7h0M1159.3 156.3h0M1159.6 150h0M1159.7 157.5h0M1159.9 158.9h0M1160.2 153.4h0M1160.5 157.8h0M1160.6 153.6h0M1160.9 153.2h0M1161.1 157.2h0M1161.3 155.1h0M1161.6 155.3h0M1161.9 155.5h0M1162 152.4h0M1162.4 151.2h0M1162.5 157.8h0M1162.7 155h0M1163 159.6h0M1163.3 157.3h0M1163.5 155.4h0M1164.8 159.1h0M1165.2 159.1h0M1165.4 155.2h0M1165.7 159.3h0M1165.9 158.2h0M1166 155.6h0M1166.4 153.7h0M1166.6 154h0M1166.9 159.3h0M1167.2 151.3h0M1167.3 157.2h0M1167.6 155.3h0M1167.7 158.6h0M1168 153.7h0M1168.3 153.2h0M1168.5 152.3h0M1168.7 155.8h0M1168.9 150h0M1169.3 159.1h0M1169.5 156h0M1169.7 153.2h0M1170 156h0M1170.2 158.9h0M1170.3 155.5h0M1170.7 157.2h0M1170.9 159.7h0M1171.2 157.3h0M1171.4 156.4h0M1171.6 156.5h0M1171.9 154.4h0M1172 152.6h0M1172.3 154.8h0M1172.4 156.3h0M1172.7 156.2h0M1173 160.1h0M1173.3 157h0M1173.6 156.4h0M1173.6 152.7h0M1173.9 152.9h0M1174.2 159.2h0M1174.4 155.6h0M1174.7 155.4h0M1174.9 151.9h0M1175.1 157.8h0M1175.4 153.2h0M1175.6 161.6h0M1175.8 156.6h0M1176.1 155h0M1176.3 152.1h0M1176.6 156.4h0M1176.9 153.2h0M1177.1 153.2h0M1177.2 144.3h0M1177.6 157.8h0M1177.7 156.8h0M1178 152.6h0M1178.3 156.1h0M1178.5 150.7h0M1178.7 164.3h0M1178.9 158h0M1179.2 150.5h0M1179.3 158.6h0M1179.7 156.9h0M1179.8 152.1h0M1180.2 155.4h0M1180.4 151.3h0M1180.6 158h0M1180.9 152.7h0M1181.1 154.1h0M1181.4 156.6h0M1181.6 156.2h0M1181.7 154.4h0M1182 153.2h0M1182.3 160.1h0M1182.5 158.8h0M1182.6 156.5h0M1183 159.9h0M1183.2 151.9h0M1183.5 154.9h0M1183.6 158.2h0M1183.9 158h0M1184.2 157.4h0M1184.4 152h0M1184.6 158.3h0M1184.8 155.5h0M1185.1 153.6h0M1185.3 159.1h0M1185.6 154h0M1185.9 155.7h0M1186 157.8h0M1186.2 148.9h0M1186.6 155.3h0M1186.8 151.4h0M1186.9 144.8h0M1187 153.1h0M1187.4 161.6h0M1187.5 153.5h0M1187.9 153.9h0M1188.1 155.1h0M1188.2 151.4h0M1188.5 157.7h0M1188.8 156.9h0M1189 159.7h0M1189.3 150h0M1189.4 160.5h0M1189.7 156.4h0M1190 157.1h0M1190.2 157.4h0M1190.5 153.7h0M1190.6 155h0M1190.9 157.4h0M1191.1 154.2h0M1191.4 160.6h0M1191.7 153.5h0M1191.8 154.6h0M1192.2 153.4h0M1192.3 158.5h0M1192.7 152.9h0M1192.8 150.8h0M1193.1 158.3h0M1193.4 158.9h0M1193.6 155.5h0M1193.7 152.1h0M1194 157.1h0M1194.2 156.6h0M1194.4 153.7h0M1194.8 146.9h0M1195 156.7h0M1195.3 153.6h0M1195.4 160.1h0M1195.7 154.6h0M1195.8 162.2h0M1196.2 153.9h0M1196.3 158h0M1196.6 156.1h0M1196.9 146.7h0M1197.2 155.9h0M1197.4 156.7h0M1197.5 153.7h0M1197.7 152.2h0M1197.9 153.3h0M1198.3 155.4h0M1198.6 155.5h0M1198.7 157.9h0M1198.9 159.8h0M1200.1 155.9h0M1200.4 154.4h0M1200.7 155.8h0M1200.8 152h0M1201.1 159.6h0M1201.4 161.9h0M1201.5 152.3h0M1201.9 150.2h0M1202 154.4h0M1202.3 156.5h0M1202.6 152.1h0M1202.7 161.1h0M1203 154.9h0M1203.2 154.5h0M1203.5 154.5h0M1203.6 144.6h0M1204.1 153.5h0M1204.1 157.5h0M1204.5 157.5h0M1204.7 157.2h0M1204.9 159.1h0M1205.1 154.8h0M1205.4 149.6h0M1205.7 155.7h0M1205.9 157.7h0M1206.1 155h0M1206.3 154.6h0M1206.6 158h0M1206.7 155.3h0M1207 152.9h0M1207.4 162.1h0M1207.6 152.7h0M1207.7 157.9h0M1207.9 151.8h0M1208.3 151.7h0M1208.5 153.1h0M1208.8 152.7h0M1209 159.3h0M1209.2 155.5h0M1209.4 151.8h0M1209.7 155.3h0M1210 153.7h0M1210.1 150.3h0M1210.3 153.9h0M1210.5 156h0M1210.9 152h0M1211.1 150.7h0M1211.3 152.5h0M1211.5 155.9h0M1211.8 155.9h0M1212 160.7h0M1212.3 153.1h0M1212.6 156h0M1212.7 155.7h0M1212.9 157.1h0M1213.2 154.4h0M1213.5 155.7h0M1213.7 155.5h0M1214 159.9h0M1214.3 160h0M1214.3 157.4h0M1214.7 152.8h0M1215 153.3h0M1215.1 154.6h0M1215.4 157h0M1215.5 154.7h0M1215.8 158.3h0M1216 157h0M1216.4 151.6h0M1216.6 156h0M1216.7 148h0M1217.1 156.6h0M1217.3 158.3h0M1217.5 160h0M1217.6 155.1h0M1218 158.9h0M1218.1 154.7h0M1218.4 151.3h0M1218.6 155.4h0M1218.9 151.6h0M1219.2 155.5h0M1219.4 153.8h0M1219.7 152.2h0M1219.9 157.8h0M1220.1 161.4h0M1220.3 155.1h0M1220.6 155.9h0M1220.9 156.5h0M1221 156.8h0M1221.2 156.6h0M1221.5 158.6h0M1221.8 152.2h0M1221.9 156.2h0M1222.2 154.1h0M1222.4 157.2h0M1222.7 153h0M1223 155.4h0M1223.1 152.7h0M1223.4 158h0M1223.7 160h0M1223.9 157.5h0M1224.1 154.6h0M1224.3 155.7h0M1224.6 158.4h0M1224.9 157.3h0M1225.1 151.8h0M1225.3 159.2h0M1225.5 154.5h0M1225.7 161.6h0M1226.1 152h0M1226.2 155.4h0M1226.5 153.6h0M1226.7 155.5h0M1226.9 152.7h0M1228.1 155.7h0M1228.4 155.5h0M1228.7 155.1h0M1228.9 155.8h0M1229 156.8h0M1229.3 154.2h0M1229.5 149.7h0M1229.8 155.4h0M1230.2 155.3h0M1230.2 158.2h0M1230.5 150.9h0M1230.7 157.5h0M1230.9 154.8h0M1231.3 157.5h0M1231.4 158h0M1231.8 157h0M1231.9 154.3h0M1232.2 157.2h0M1232.5 151.7h0M1232.7 151.2h0M1232.9 156.2h0M1233 157.3h0M1233.3 152.5h0M1233.6 152.9h0M1233.8 154.9h0M1234.1 160.7h0M1234.4 157.7h0M1234.6 158h0M1234.7 153.8h0M1235 157.1h0M1235.3 155h0M1235.4 155.5h0M1235.7 156.7h0M1236 150.5h0M1236.3 156h0M1236.5 159.6h0M1236.7 155.9h0M1236.9 154.6h0M1237.2 157.6h0M1237.4 154.2h0M1237.7 154.4h0M1237.9 152.7h0M1238.2 154h0M1238.3 158.7h0M1238.6 156.6h0M1238.8 160.3h0M1239.1 158.7h0M1239.2 157.7h0M1239.5 161.8h0M1239.7 160.5h0M1240 152.5h0M1240.3 156.7h0M1240.5 160.1h0M1240.7 157.6h0M1241 154.9h0M1241.1 155h0M1241.4 156.5h0M1241.7 152.7h0M1242 157.1h0M1242.1 160.5h0M1242.5 153.7h0M1242.6 156.1h0M1242.9 156.1h0M1243.2 153.7h0M1243.2 161.5h0M1243.6 164.3h0M1243.7 157.3h0M1244 151h0M1244.3 152.3h0M1244.5 150.6h0M1244.7 156.4h0M1245.1 148.3h0M1245.2 155.5h0M1245.4 152.9h0M1245.7 150.4h0M1245.9 151.3h0M1246.3 153.3h0M1246.4 151.4h0M1246.7 155.4h0M1246.8 156.6h0M1247.2 155.6h0M1247.5 153.8h0M1247.5 157.2h0M1247.8 161.4h0M1248.1 153.2h0M1248.4 158.2h0M1248.5 150.9h0M1248.7 153.7h0M1249.1 155.6h0M1249.2 160h0M1249.4 159.7h0M1249.8 155.2h0M1250 151.1h0M1250.2 158.9h0M1250.4 150.6h0M1255.4 155.4h0M1255.7 156.2h0M1255.9 155.2h0M1256 154.7h0M1256.4 151h0M1256.6 156.7h0M1256.9 158.6h0M1257 155.8h0M1257.3 150.4h0M1257.5 148.4h0M1257.7 151.5h0M1258.1 158.1h0M1258.2 155.1h0M1258.4 155.4h0M1258.7 154.7h0M1258.9 154.7h0M1259.2 158h0M1259.5 151.2h0M1259.7 153.7h0M1259.9 154.9h0M1260.2 154h0M1260.4 155.5h0M1260.5 159.8h0M1260.9 153h0M1261.1 150.3h0M1261.4 158h0M1261.5 161.8h0M1261.9 154.6h0M1262.1 152.9h0M1262.3 151.6h0M1262.4 154.9h0M1262.7 155.3h0M1263 152.7h0M1263.1 150.2h0M1263.5 158h0M1263.6 155.8h0M1264 154.9h0M1264.1 150.9h0M1264.4 156.7h0M1264.7 150h0M1265 156.9h0M1265.1 154.5h0M1265.4 157.6h0M1265.6 154.9h0M1265.9 156.1h0M1266.1 161.3h0M1266.3 161.9h0M1266.6 158.5h0M1266.9 150.8h0M1267 154.7h0M1267.3 152.7h0M1267.5 152.2h0M1267.7 150.2h0M1268.1 148.5h0M1268.2 156.8h0M1268.5 148.9h0M1268.7 148.7h0M1269 156.2h0M1269.1 155.9h0M1269.4 156.8h0M1269.7 153.3h0M1270 146.7h0M1270.2 151.2h0M1270.3 155.3h0M1270.6 153.8h0M1270.8 151.7h0M1271 153.8h0M1271.3 153.6h0M1271.5 151.7h0M1271.8 149.7h0M1272.1 154.7h0M1272.1 156.4h0M1272.4 147.6h0M1272.7 153.6h0M1272.9 149.6h0M1273.2 158.9h0M1273.4 156.3h0M1273.6 154.5h0M1273.8 150.7h0M1274.2 158.2h0M1274.3 154.7h0M1274.7 157.6h0M1274.8 159.1h0M1275.2 157.4h0M1275.3 148.3h0M1275.5 153.9h0M1275.8 156h0M1276 152.3h0M1276.3 155.2h0M1276.6 150.5h0M1276.7 153.1h0M1277 152.1h0M1277.2 155.8h0M1277.5 153.6h0M1277.7 155.1h0M1282.5 145.4h0M1282.8 158.7h0M1282.9 152.5h0M1283.1 148.7h0M1283.3 149.7h0M1283.7 149.6h0M1284 149.9h0M1284 156.6h0M1284.4 151.4h0M1284.7 158.6h0M1284.9 153.9h0M1285.2 156.3h0M1285.3 152.5h0M1285.5 156.1h0M1285.8 154.6h0M1286.1 149.5h0M1286.3 149.6h0M1286.5 156.7h0M1286.7 155.6h0M1286.9 147.6h0M1287.3 152.8h0M1287.5 153.8h0M1287.6 153.6h0M1288 154h0M1288.3 153.9h0M1288.4 153.2h0M1288.6 146.4h0M1288.9 157.3h0M1289.1 152.8h0M1289.3 147h0M1289.5 153.4h0M1289.7 153.9h0M1290 157.5h0M1290.3 155.6h0M1290.6 158.1h0M1290.7 155.3h0M1290.9 157.8h0M1291.3 150.2h0M1291.6 150.5h0M1291.7 151.6h0M1292 146.1h0M1292.1 153.8h0M1292.5 154.6h0M1292.6 153.5h0M1292.9 151.8h0M1293.2 154.8h0M1293.5 153.4h0M1293.6 150.3h0M1293.9 152.1h0M1294 155.7h0M1294.3 151.2h0M1294.6 152.5h0M1294.9 153.3h0M1295 150.6h0M1295.3 147.7h0M1295.5 152.7h0M1295.8 153.3h0M1295.9 151.3h0M1296.2 147.7h0M1296.5 153.9h0M1296.8 153.8h0M1297 150.7h0M1297.3 151.2h0M1297.4 151.7h0M1297.6 151.7h0M1297.9 155.5h0M1298.2 154h0M1298.4 151.8h0M1298.5 151.6h0M1298.9 157.7h0M1299 148.9h0M1299.3 149.2h0M1299.5 152.1h0M1299.9 155.2h0M1300 157.1h0M1300.2 150.9h0M1300.5 146.2h0M1300.7 149.7h0M1300.9 153.8h0M1301.3 151.1h0M1301.4 147.6h0M1301.7 151.9h0M1302 152.3h0M1302.1 152h0M1302.3 155.5h0M1302.6 152.4h0M1302.8 149.6h0M1303.1 159.3h0M1303.4 150.8h0M1308.1 157.7h0M1308.5 157.7h0M1308.6 159.2h0M1308.9 151.8h0M1309.2 152.3h0M1309.3 151.3h0M1309.6 158.2h0M1309.9 153.2h0M1310.1 152.7h0M1310.3 156.1h0M1310.5 154.5h0M1310.8 151.4h0M1311.1 157.6h0M1311.3 155.9h0M1311.5 152.6h0M1311.7 154.1h0M1311.9 154.7h0M1312.2 152.2h0M1312.4 154.7h0M1312.8 156.6h0M1313 152.7h0M1313.1 152.2h0M1313.4 156.6h0M1313.6 152.9h0M1313.8 160.5h0M1314.1 157.3h0M1314.3 156.4h0M1314.6 156.1h0M1314.9 150.7h0M1315 156h0M1315.2 153.7h0M1315.5 158.4h0M1315.7 154.6h0M1315.9 158.9h0M1316.1 152.4h0M1316.4 156.2h0M1316.6 156.3h0M1317 158.9h0M1317.1 154.5h0M1317.5 152.7h0M1317.7 148.8h0M1318 154.7h0M1318.2 156.6h0M1318.4 153.6h0M1318.6 151.6h0M1318.9 155h0M1319 147.5h0M1319.4 149.3h0M1319.6 156.4h0M1319.8 160.4h0M1320.1 154.6h0M1320.3 154.3h0M1320.5 150.7h0M1320.8 153.9h0M1320.9 157.4h0M1321.3 162.4h0M1321.4 154.6h0M1321.8 152.8h0M1321.9 156h0M1322.2 156.8h0M1322.5 154.8h0M1322.7 156.8h0M1322.9 159.1h0M1323.1 162.7h0M1323.4 156.2h0M1323.6 152.8h0M1323.8 158.2h0M1324 160.6h0M1324.3 150.6h0M1324.6 150.9h0M1324.8 156.5h0M1325.1 151h0M1325.2 154.8h0M1325.5 147.3h0M1325.8 152.9h0M1326 152.5h0M1326.3 157.2h0M1326.5 154.6h0M1326.7 153.1h0M1327 153.7h0M1327.1 157.9h0M1327.4 157.3h0M1327.6 157.8h0M1327.7 154.7h0M1328 159.8h0M1328.3 156.4h0M1328.6 152h0M1328.6 160.3h0M1328.9 158.8h0M1329.2 157.9h0M1329.3 153.7h0M1329.7 155.7h0M1329.8 155.6h0M1330.1 159.3h0M1330.5 151.7h0M1330.6 159.8h0M1330.8 155.6h0M1331.2 156.3h0M1331.3 151.6h0M1331.5 156.1h0M1331.8 158.1h0M1332.1 159.4h0M1332.3 157.1h0M1332.4 156.6h0M1332.7 153.6h0M1333 155.4h0M1333.1 158.8h0M1333.4 155.3h0M1333.6 156h0M1333.8 154.7h0M1334.2 157.5h0M1334.3 161.9h0M1334.6 157.2h0M1335 154.7h0M1335 152.1h0M1335.3 153.6h0M1335.6 157.9h0M1335.7 156h0M1336 153.2h0M1338.9 152.3h0M1339.2 155.5h0M1339.4 160.4h0M1339.7 155.4h0M1339.8 154.1h0M1340.1 155.7h0M1340.4 158.1h0M1340.6 149.7h0M1340.7 161.5h0M1341 157.2h0M1341.2 156.3h0M1341.5 154.5h0M1341.8 157.5h0M1341.9 156.7h0M1342.2 155.1h0M1342.4 157.3h0M1342.7 157.8h0M1342.9 159h0M1343.3 154.4h0M1343.4 156.9h0M1343.6 156.9h0M1343.8 156.1h0M1344.1 161.8h0M1344.4 153.5h0M1344.6 152.9h0M1344.8 156.8h0M1345.1 158.7h0M1345.2 159.3h0M1345.5 154.3h0M1345.8 156.8h0M1346 153.7h0M1346.2 151.6h0M1346.6 158.5h0M1346.8 154.7h0M1347 158.8h0M1347.1 149.2h0M1347.5 153.9h0M1347.7 155.2h0M1347.8 161.5h0M1348.2 159.8h0M1348.3 162.3h0M1348.6 156.6h0M1348.8 155.6h0M1349.1 153.5h0M1349.2 154.8h0M1349.3 149.6h0M1349.7 152.7h0M1349.9 152.9h0M1350.2 153.1h0M1350.4 156h0M1350.6 158.7h0M1350.8 150.1h0M1351.2 151.6h0M1351.3 151h0M1351.5 152.3h0M1351.9 150.4h0M1352.1 155.5h0M1352.3 155.9h0M1352.5 157h0M1352.7 158h0M1352.9 151.7h0M1353.2 155.9h0M1353.5 151.1h0M1353.7 156.3h0M1353.8 152.9h0M1354.2 155.1h0M1355.3 164h0M1355.6 154.6h0M1355.8 154.1h0M1356 152h0M1356.4 156.4h0M1356.5 155.1h0M1356.8 152.5h0M1357.1 152.6h0M1357.3 152.3h0M1357.5 151.4h0M1357.6 153.5h0M1357.9 153.9h0M1358.2 154h0M1358.4 156.2h0M1358.7 150.2h0M1359 150.4h0M1359.1 156.3h0M1359.3 159.2h0M1359.6 151.4h0M1359.8 156.7h0M1360.1 154.3h0M1360.3 156.3h0M1360.5 161.3h0M1360.7 158.6h0M1361 154.2h0M1361.3 156.8h0M1361.5 150.9h0M1361.7 153.9h0M1361.9 150.9h0M1362.2 160.5h0M1362.6 153.9h0M1362.7 157.1h0M1363 153.2h0M1363.1 152.2h0M1363.5 158h0M1363.6 150.4h0M1363.8 156.6h0M1364.2 157.8h0M1364.3 152.8h0M1364.6 154.8h0M1364.8 155.4h0M1365 154.5h0M1365.2 155.3h0M1365.5 155.4h0M1365.7 151.1h0M1366.1 150.1h0M1366.3 157.3h0M1366.5 145.3h0M1366.7 159h0M1366.9 152.1h0M1367.2 160.3h0M1367.5 154.9h0M1367.6 155.3h0M1367.9 155.3h0M1368.2 159.9h0M1368.5 154.3h0M1368.8 154.1h0M1369 153.7h0M1369.1 152.3h0M1369.4 155.5h0M1369.6 155.5h0M1369.9 153.2h0M1370 154h0M1370.3 155.2h0M1370.7 152.7h0M1370.9 151.6h0M1371 153h0M1371.2 155h0M1371.4 152.8h0M1371.8 154.4h0M1372.1 154.1h0M1373 157.1h0M1373.2 159.2h0M1373.4 148.5h0M1373.6 151.5h0M1373.8 156.4h0M1374.2 154.4h0M1374.3 150.4h0M1374.6 155.1h0M1374.9 148.9h0M1375 153.4h0M1375.3 156.2h0M1375.6 156.8h0M1375.8 153.5h0M1376 150.3h0M1376.3 158.1h0M1376.5 153h0M1376.8 159.3h0M1376.9 149.9h0M1377.2 152.3h0M1377.4 158.6h0M1377.8 153.6h0M1377.8 155.1h0M1378.2 149.8h0M1378.4 154.7h0M1378.7 157.4h0M1378.9 154.6h0M1379 161.8h0M1379.4 156.7h0M1379.6 154.4h0M1379.9 151.5h0M1380.2 151.1h0M1380.4 151.9h0M1380.5 153.3h0M1380.7 153.1h0M1380.9 154h0M1381.3 154.5h0M1381.4 157h0M1381.8 155.2h0M1382 155.9h0M1382.2 155.5h0M1382.4 154.6h0M1382.6 152.1h0M1382.9 156.1h0M1383.2 159.5h0M1383.5 153.8h0M1383.5 152.1h0M1383.9 154.2h0M1384.2 156.9h0M1384.4 151.3h0M1384.6 157.4h0M1384.8 153.9h0M1385 152.2h0M1385.3 155.3h0M1385.5 159.9h0M1385.8 156.9h0M1386 152.5h0M1386.2 156.2h0M1386.4 154.1h0M1386.7 158.9h0M1387 160.2h0M1387.1 159.5h0M1387.4 156.6h0M1387.7 159.3h0M1387.8 160.7h0M1388.1 158.3h0M1388.3 158.7h0M1388.6 158h0M1388.9 154.5h0M1389 161.4h0M1389.3 158.4h0M1389.6 156.5h0M1389.9 160.3h0M1390.1 155.6h0M1390.2 162.2h0M1390.6 158.3h0M1390.8 157.7h0M1390.9 158.9h0M1391.2 159h0M1391.5 157.8h0M1391.8 157.4h0M1392 155.3h0M1392.2 161.8h0M1392.5 157.3h0M1392.6 159.4h0M1393.9 157.7h0M1394.1 161.9h0M1394.2 153.7h0M1394.6 154.5h0M1394.8 156.7h0M1395 161.2h0M1395.2 160.8h0M1395.5 165.8h0M1395.8 158.6h0M1396 153h0M1396.1 156.4h0M1396.4 151.5h0M1396.7 154h0M1397 163.4h0M1397.1 155.9h0M1397.4 160.7h0M1397.6 158.4h0M1397.8 156.5h0M1398.2 160.6h0M1398.4 158.9h0M1398.6 161.3h0M1398.8 160.7h0M1399 157.7h0M1399.2 162.9h0M1399.6 160.8h0M1399.8 158.7h0M1400.1 160h0M1400.3 158.8h0M1400.5 155.9h0M1400.8 160.8h0M1400.9 151.7h0M1401.3 157.6h0M1401.5 154.6h0M1401.7 152.4h0M1401.9 155.5h0M1402.1 151h0M1402.4 157.8h0M1402.6 155.6h0M1402.9 158h0M1403.1 153.2h0M1403.4 157.3h0M1403.5 158.1h0M1403.9 158.5h0M1404.1 157.3h0M1404.3 156.7h0M1404.5 152h0M1404.8 151.9h0M1405.1 152.4h0M1405.3 157.1h0M1405.4 154.7h0M1405.7 149.5h0M1406.1 149.9h0M1406.2 154.8h0M1406.5 155.5h0M1406.7 157.6h0M1407 150.5h0M1408.2 155.8h0M1408.3 155h0M1408.5 160.4h0M1408.9 152.4h0M1409.1 156h0M1409.3 150.1h0M1409.5 152.1h0M1409.8 154.8h0M1410 153.9h0M1410.2 155h0M1410.5 158.6h0M1410.8 150.6h0M1410.9 155.9h0M1411.1 151.2h0M1411.4 153.4h0M1411.6 156.7h0M1411.8 155.1h0M1412.1 157h0M1412.3 155.5h0M1412.7 154.3h0M1412.9 152.6h0M1413.1 152.5h0M1413.3 156.8h0M1413.5 147.6h0M1413.7 157.3h0M1414.1 153h0M1414.4 153.8h0M1414.4 157.5h0M1414.8 151h0M1415 154.8h0M1415.1 152.4h0M1415.5 156.4h0M1415.6 151.9h0M1419.5 148h0M1419.7 156.2h0M1420 149.9h0M1420.2 162.5h0M1420.4 160.8h0M1420.7 151.7h0M1420.9 153.9h0M1421.2 152.4h0M1421.5 155.5h0M1421.6 152.8h0M1421.8 153.1h0M1422.1 151.8h0M1422.3 149h0M1422.6 155.7h0M1422.8 157.2h0M1423 156.5h0M1423.2 152.3h0M1423.6 159.2h0M1423.9 153.6h0M1424 156.4h0M1424.2 147.2h0M1424.5 149.4h0M1424.8 153.7h0M1424.9 151.8h0M1425.2 156.1h0M1425.4 159.1h0M1425.6 158.3h0M1425.9 153h0M1426.2 151.4h0M1426.3 153.1h0M1426.6 155.9h0M1426.9 156.2h0M1427.2 155.9h0M1431.2 157.5h0M1431.4 153.5h0M1431.6 160.5h0M1431.9 156.5h0M1432.1 154.9h0M1432.4 159.4h0M1432.6 155h0M1432.9 162.2h0M1433 153.6h0M1433.4 160.1h0M1433.4 155h0M1433.8 150.8h0M1434 153.1h0M1434.2 156.2h0M1434.4 156.4h0M1434.7 159.3h0M1434.9 157.2h0M1435.2 156.9h0M1435.4 156.2h0M1435.6 150.8h0M1435.9 156h0M1436.2 152.2h0M1436.5 149.4h0M1436.7 160h0M1436.7 149.1h0M1437.1 154.9h0M1437.3 152h0M1437.6 154.9h0M1437.8 154h0M1438.1 156.7h0M1438.3 155.5h0M1438.5 157.4h0M1438.8 153.8h0M1439 153.1h0M1439.3 163.1h0M1439.4 156.9h0M1439.5 157.9h0M1439.8 166.8h0M1440.1 168.1h0M1440.2 166.2h0M1440.5 168.8h0M1440.7 170.3h0M1440.9 168.8h0M1441.1 168h0M1441.4 169.4h0M1441.6 167.9h0M1442 170.3h0M1442.1 164.1h0M1442.5 171h0M1442.6 167.1h0M1442.8 162.3h0M1443 168.1h0M1443.3 169.5h0M1443.5 164.4h0M1443.8 168.7h0M1443.9 168.3h0M1444.3 169.4h0M1444.4 168.3h0M1444.7 165h0M1445 169.2h0M1445.1 172.5h0M1445.5 167.3h0M1445.7 164.5h0M1446 168.7h0M1446.2 168.5h0M1446.4 166.1h0M1446.6 168.2h0M1446.8 170h0M1447.1 164.1h0M1447.3 165.7h0M1447.5 167.8h0M1447.9 164.9h0M1448.1 170.2h0M1448.4 167.3h0M1448.4 170h0M1448.8 168.8h0M1449 166.8h0M1449.3 169.6h0M1449.4 168h0M1449.6 165.3h0M1450 165.7h0M1450.2 169.9h0M1450.4 162.7h0M1450.6 169.4h0M1451 168h0M1451.2 166.9h0M1451.3 165.6h0M1451.7 163.9h0M1451.9 170.9h0M1452.2 167.2h0M1452.2 167h0M1452.5 165.2h0M1452.7 168h0M1453.1 169.5h0M1454.3 166.2h0M1454.5 167.4h0M1454.7 168.6h0M1454.9 169.4h0M1455.1 170h0M1455.4 167.5h0M1455.6 165.9h0M1455.9 166.3h0M1456.1 166.4h0M1456.4 169.9h0M1456.6 169.8h0M1456.7 167.6h0M1457.1 170.9h0M1457.3 165.7h0M1457.5 164.3h0M1457.8 164.8h0M1458.1 166h0M1458.3 165.3h0M1458.6 169h0M1458.7 170.2h0M1459 166.3h0M1459.3 167.8h0M1459.4 167.5h0M1459.7 168.9h0M1460 166.6h0M1460.1 167h0M1460.3 168.8h0M1460.6 169h0M1460.8 168.1h0M1461.1 169.4h0M1461.4 167.1h0M1461.6 170.7h0M1461.8 168.9h0M1462.1 169.3h0M1462.2 165.6h0M1462.5 166.9h0M1462.8 166.8h0M1462.9 165.9h0M1463.3 171.4h0M1463.5 166.2h0M1463.8 169.1h0M1463.9 169.5h0M1464.3 167.4h0M1464.3 168.3h0M1464.7 167.1h0M1464.8 167.4h0M1465.1 172.3h0M1465.3 166h0M1465.6 169.3h0M1465.8 173.9h0M1466.1 163.9h0M1466.2 167h0M1466.5 166.2h0M1466.8 169.3h0M1467.1 166h0M1467.2 171.6h0M1467.6 167h0M1467.7 167.2h0M1468.1 167.7h0M1468.3 166.9h0M1468.5 169.7h0M1468.7 167.3h0M1468.9 166h0M1469.2 168h0M1469.5 167.5h0M1469.7 165.7h0M1469.9 167.6h0M1470.2 170.6h0M1470.3 168.4h0M1470.6 165.8h0M1470.8 164.5h0M1471 166.2h0M1471.3 166.8h0M1471.6 165.9h0M1471.8 168.4h0M1472 168h0M1472.3 171h0M1472.5 168h0M1472.8 168.5h0M1472.9 167.3h0M1473.3 165.3h0M1473.4 165h0M1473.6 171.3h0M1473.9 164.5h0M1474.2 167.1h0M1474.5 164.9h0M1474.7 170.7h0M1474.8 170.1h0M1475.1 169.8h0M1475.4 165h0M1475.5 166.1h0M1475.9 168.4h0M1476.1 169.5h0M1476.3 166.5h0M1477.1 170.2h0M1477.3 169.8h0M1477.6 173.5h0M1477.7 172.3h0M1478 165.8h0M1478.2 171.8h0M1478.5 168.1h0M1479.4 168.6h0M1479.6 169.8h0M1479.9 172.7h0M1480.2 173.3h0M1480.3 170.9h0M1480.5 169h0M1480.8 175.9h0M1481.2 170.7h0M1481.3 170.7h0M1481.7 170.8h0M1481.8 169.6h0M1482 173.6h0M965.5 134.8h0M974.9 143h0" stroke="#708090" stroke-width="4.5" stroke-linecap="round" fill="none"/><polyline points="756.1,154 815.3,154 815.3,153.5 873.2,153.5 873.2,154.9 919.7,154.9 919.7,155.3 965.3,155.3 965.3,154.2 1008.5,154.2 1008.5,155.5 1049,155.5 1049,105.1 1056.7,105.1 1056.7,165.7 1074.8,165.7 1074.8,98.6 1077.3,98.6 1077.3,85.9 1083.5,85.9 1083.5,151.4 1086.6,151.4 1086.6,153.4 1121.2,153.4 1121.2,152.2 1147.5,152.2 1147.5,156.5 1154.7,156.5 1154.7,155.5 1186.5,155.5 1186.5,154.9 1218.6,154.9 1218.6,155.6 1250.7,155.6 1254,154.2 1278,154.2 1282,152.9 1303.3,152.9 1308,154.6 1327.5,154.6 1327.5,156.5 1348.8,156.5 1348.8,154 1368.3,154 1368.3,154.2 1386.9,154.2 1386.9,158 1400.2,158 1400.2,154 1415.2,154 1415.2,154.2 1427.7,154.2 1431,155.5 1439.7,155.5 1439.7,167.5 1476.5,167.5 1476.5,170.8 1482.4,170.8" stroke="#ff7f0e" stroke-width="3.1" fill="none" stroke-linejoin="miter"/><path d="M815.2 65.4V185.3M872.9 65.4V185.3M919.9 65.4V185.3M965.2 65.4V185.3M1008.1 65.4V185.3M1048.7 65.4V185.3M1086.5 65.4V185.3M1121.2 65.4V185.3M1154.7 65.4V185.3M1186.8 65.4V185.3M1218.9 65.4V185.3M1250.6 65.4V185.3M1277.9 65.4V185.3M1303.4 65.4V185.3M1327.7 65.4V185.3M1349.1 65.4V185.3M1368.4 65.4V185.3M1386.9 65.4V185.3M1400.9 65.4V185.3M1415.9 65.4V185.3M1427.3 65.4V185.3M1439.5 65.4V185.3M1476.3 65.4V185.3" stroke="#000" stroke-opacity="0.3" stroke-width="1" stroke-dasharray="1.3 1.3" fill="none"/><rect x="756.5" y="65.4" width="726" height="119.9" fill="none" stroke="#3a3a3a" stroke-width="1.2"/><path d="M756.5 185.3h-2.6M756.5 155.3h-2.6M756.5 125.3h-2.6M756.5 95.3h-2.6M756.5 65.3h-2.6" stroke="#3a3a3a" stroke-width="1.2"/><g font-size="20.5"><text x="750.2" y="192.7" text-anchor="end">0</text><text x="750.2" y="162.7" text-anchor="end">2</text><text x="750.2" y="132.7" text-anchor="end">4</text><text x="750.2" y="102.7" text-anchor="end">6</text><text x="750.2" y="72.7" text-anchor="end">8</text><text x="785.7" y="208.2" text-anchor="middle">1</text><text x="896.4" y="208.2" text-anchor="middle">3</text><text x="986.7" y="208.2" text-anchor="middle">5</text><text x="1067.6" y="208.2" text-anchor="middle">7</text><text x="1138.4" y="208.2" text-anchor="middle">9</text><text x="1202.8" y="208.2" text-anchor="middle">11</text><text x="1264.3" y="208.2" text-anchor="middle">13</text><text x="1315.5" y="208.2" text-anchor="middle">15</text><text x="1358.8" y="208.2" text-anchor="middle">17</text><text x="1392.5" y="208.2" text-anchor="middle">19</text><text x="1423" y="208.2" text-anchor="middle">21</text><text x="1457" y="208.2" text-anchor="middle">X</text><text x="1479.4" y="208.2" text-anchor="middle">Y</text><text x="1110.9" y="234.7" text-anchor="middle" textLength="125" lengthAdjust="spacingAndGlyphs">Chromosome</text><text transform="translate(729.8 128.6) rotate(-90)" text-anchor="middle" textLength="123.4" lengthAdjust="spacingAndGlyphs">Copy number</text></g><text x="1106.2" y="52.4" font-size="25.3" text-anchor="middle" textLength="167.9" lengthAdjust="spacingAndGlyphs">Calcified tissue</text><path d="M754.1 412.9h0M754.4 415.2h0M754.8 406.8h0M754.9 414.9h0M755.3 412.6h0M755.5 409.9h0M755.8 414.9h0M756.1 411.9h0M756.4 411.6h0M756.6 413.2h0M756.9 410.4h0M757.2 412.4h0M757.5 417.5h0M757.8 405.8h0M757.9 420.2h0M758.3 410.4h0M758.6 409.5h0M758.8 412.8h0M759.1 414.3h0M759.3 418h0M759.7 412.7h0M759.9 416.6h0M760.1 415.8h0M760.4 414.5h0M760.6 420.8h0M761 409.7h0M761.3 413.1h0M761.6 413.3h0M761.9 404.6h0M762 414.7h0M762.3 411.2h0M762.5 414.3h0M762.8 411.2h0M763.2 419.5h0M763.5 409.1h0M763.8 407.9h0M764 416.5h0M764.4 413.9h0M764.6 417h0M764.7 412.3h0M765.2 414.7h0M765.3 410.2h0M765.5 416.5h0M765.8 417.1h0M766.3 409.3h0M766.4 416.8h0M766.7 416.2h0M767 416.8h0M767.2 413.5h0M767.5 416.3h0M767.8 416.8h0M768.2 414.7h0M768.3 410.2h0M768.6 404.3h0M768.8 415.4h0M769.2 417.6h0M769.5 417.3h0M769.8 421.2h0M770.1 414.3h0M770.2 407.2h0M770.6 413.5h0M770.8 413.8h0M771.2 410.9h0M771.4 416.2h0M771.7 415.7h0M772 415.9h0M772.2 411h0M772.5 416.7h0M772.6 415.3h0M773.1 413.8h0M773.2 417.2h0M773.5 412.9h0M773.7 412.3h0M774.2 411.1h0M774.4 407.1h0M774.7 409.5h0M774.9 412h0M775.2 415.5h0M775.5 414.9h0M775.7 410.8h0M776 414h0M776.3 416.7h0M776.6 421.7h0M776.8 414.6h0M777 410h0M777.5 412.8h0M777.6 412.5h0M777.9 417h0M778.2 411.7h0M778.4 413.2h0M778.6 409.3h0M779.1 417.9h0M779.3 413.3h0M779.6 407.8h0M779.9 414.7h0M780 421.4h0M780.3 410.3h0M780.6 416.4h0M781 406.2h0M789.9 417.9h0M790.1 420.8h0M790.4 415.9h0M790.8 416.9h0M791.1 412.5h0M791.3 421.2h0M791.5 408.7h0M791.9 413.4h0M792 410.8h0M792.4 412.6h0M792.7 409.1h0M793 418.6h0M793.2 410.9h0M793.4 420.9h0M793.7 411.5h0M793.9 420.5h0M794.2 415.9h0M794.5 402.8h0M794.9 410h0M795.1 411.2h0M795.3 413.2h0M795.7 418.6h0M795.9 411.6h0M796.1 413h0M796.5 416.9h0M796.7 420.4h0M797 410.7h0M797.2 411.2h0M797.5 415.4h0M797.9 418.4h0M798.1 410.4h0M798.4 416.6h0M798.7 419.2h0M798.8 418.6h0M799.2 417.6h0M799.4 418.7h0M799.6 417.3h0M800 414.8h0M800.2 407.8h0M800.5 414.6h0M800.7 416.3h0M801.1 411.6h0M801.3 410.8h0M801.6 423.9h0M802 415.5h0M802.2 417.7h0M802.4 411.7h0M802.8 403.6h0M803 409.3h0M803.3 412.6h0M803.6 420.9h0M803.8 410.7h0M804.1 411.3h0M804.4 416.9h0M804.6 408.5h0M804.9 413.8h0M805.2 408.1h0M805.5 414h0M805.8 412h0M806 418.4h0M806.2 420.3h0M806.6 405.2h0M806.9 413.1h0M807.1 417.4h0M807.4 417.8h0M807.7 415.9h0M807.8 411h0M808.1 420.5h0M808.4 410.7h0M808.6 412.8h0M809 413.1h0M809.3 413.5h0M809.5 414.4h0M809.8 419.8h0M810 413.9h0M810.4 411.9h0M810.6 408.8h0M810.9 412.6h0M811.3 418.4h0M811.5 419h0M811.8 409.9h0M812.1 412.5h0M812.4 413.4h0M812.5 413.3h0M812.8 412.6h0M813.2 418.6h0M813.4 421.2h0M813.5 414.8h0M813.9 412.7h0M814 414.6h0M814.3 409.7h0M814.6 412.4h0M814.9 415.1h0M815.2 411.8h0M815.6 417.5h0M815.8 407.7h0M816 413.3h0M816.4 410.3h0M816.6 415.4h0M816.9 407.9h0M817.1 418h0M817.4 418.1h0M817.6 409.7h0M818 419h0M818.1 413.5h0M818.6 413h0M818.8 417.3h0M819 414.3h0M819.2 424.1h0M819.5 412.1h0M819.9 414h0M820.1 417.5h0M820.4 409.3h0M820.6 413.5h0M820.9 417.1h0M821.1 419.7h0M821.5 414.3h0M821.8 417.8h0M821.9 416.5h0M822.2 415.3h0M822.6 409.5h0M822.8 409.4h0M823.1 418.3h0M823.5 416.8h0M823.6 415.8h0M824 421.6h0M824.3 416.6h0M824.4 419h0M824.8 415.2h0M825.1 420.8h0M825.3 418h0M825.6 419.1h0M825.9 411.7h0M826 416.4h0M826.5 413.3h0M826.6 413h0M826.9 412h0M827.2 415.9h0M827.6 408.7h0M827.8 403h0M828.1 411.2h0M828.3 413.4h0M828.5 417.4h0M828.8 413.8h0M829 412.2h0M829.4 411.3h0M829.6 415.7h0M829.9 417.2h0M830.2 411.8h0M830.4 419.1h0M830.8 417.4h0M831.1 415.2h0M831.2 423.5h0M831.5 413.7h0M831.9 417.6h0M832 409.2h0M832.4 411.7h0M832.6 416.1h0M833 416.1h0M833.3 418.6h0M833.5 415.9h0M833.8 418.6h0M834 411.6h0M834.3 417h0M834.6 413.3h0M836 419.7h0M836.2 411.5h0M836.5 416.5h0M836.8 413.8h0M837.1 420.5h0M837.2 413.2h0M837.6 409.7h0M837.9 413.1h0M838 411.5h0M838.3 416.7h0M838.6 417.4h0M838.9 422h0M839.2 418.3h0M839.5 414.6h0M839.7 407.3h0M840 419.7h0M840.4 416.6h0M840.6 417h0M840.9 416.3h0M841.2 421.2h0M841.4 414.5h0M841.7 415.5h0M842 412.2h0M842.2 408.4h0M842.4 414.5h0M842.8 408.7h0M842.9 413.8h0M843.2 415.8h0M843.7 415.2h0M843.9 415h0M844.2 412.5h0M844.4 416.5h0M844.6 409.8h0M844.9 416.1h0M845.3 420.1h0M845.5 415.4h0M845.8 418.3h0M846.1 408.4h0M846.4 412h0M846.6 415.2h0M846.8 404.6h0M847.2 415.6h0M847.4 417h0M847.7 408.4h0M848 421h0M848.3 412.9h0M848.6 419.8h0M848.8 413.4h0M849 412.9h0M849.3 407.5h0M849.5 407.6h0M849.8 415h0M850.1 411.2h0M850.3 416.1h0M850.7 408.1h0M850.9 416.7h0M851.2 416.1h0M851.5 413.8h0M851.8 418.4h0M852.1 416.8h0M852.2 409.7h0M852.6 416.8h0M852.8 411.1h0M853.1 413.9h0M853.3 413.2h0M853.6 417h0M853.9 414.2h0M854.2 413.9h0M854.4 414.5h0M854.8 417.3h0M855 411.1h0M855.4 417.6h0M855.6 408.7h0M855.8 410.1h0M856.1 414.4h0M856.3 421.4h0M856.7 411.5h0M856.9 416.6h0M857.3 408.4h0M857.4 419.4h0M857.7 415.9h0M858 413.8h0M858.3 405.4h0M858.6 412.6h0M858.8 411.5h0M859.2 412.2h0M859.4 419.7h0M859.7 415.1h0M859.9 413.9h0M860.2 409.4h0M860.4 422.7h0M860.8 417.1h0M860.9 412.9h0M861.4 415.8h0M861.5 410.3h0M861.8 413.4h0M862.1 414.8h0M862.5 417.2h0M862.7 417.1h0M863 411.3h0M863.3 410h0M863.4 422.3h0M863.8 409.7h0M864 416.1h0M864.3 414.2h0M864.5 416.8h0M864.9 416.6h0M865.1 410.4h0M865.4 418h0M865.6 416.9h0M865.9 411.1h0M866.2 415.2h0M866.4 409.3h0M866.7 413.8h0M867 416h0M867.3 407.7h0M867.5 416.8h0M867.9 415.8h0M868.1 415.4h0M868.4 413.4h0M868.7 409.5h0M868.9 423.1h0M869.2 413.8h0M869.6 406.3h0M869.7 415h0M870 410.4h0M870.3 412.6h0M870.6 417.9h0M870.9 419.7h0M871 411.9h0M871.2 411.9h0M871.6 423.2h0M871.8 417.5h0M872.1 419.4h0M872.3 416.6h0M872.5 420.6h0M872.8 413h0M873.2 414.1h0M873.5 421.1h0M873.7 419h0M874 414h0M874.3 415.3h0M874.5 417.4h0M874.8 411.4h0M875.1 412.9h0M875.4 415h0M875.7 412.2h0M875.8 416.7h0M876.1 415.3h0M876.4 414.5h0M876.8 414.8h0M876.9 420h0M877.3 414.6h0M877.6 412.7h0M877.8 410.5h0M878 416.8h0M878.3 413.8h0M878.6 418.4h0M878.9 410.2h0M879.2 420.9h0M879.5 416.1h0M879.6 414.3h0M880.1 410.9h0M880.2 415.6h0M880.6 421.8h0M880.8 410.1h0M881.1 413.8h0M881.4 419.7h0M881.6 411.9h0M881.9 410.2h0M882.1 414.6h0M882.5 414.2h0M882.7 413.3h0M883.1 412.8h0M883.3 411.8h0M883.6 419.1h0M883.9 415.3h0M884 417h0M884.3 414.3h0M884.7 406.3h0M885 406h0M885.1 414.2h0M885.5 414.9h0M885.7 418h0M886 419h0M886.3 416.3h0M886.6 413.2h0M886.8 415.9h0M887.1 414.6h0M887.2 414.3h0M887.7 415.5h0M888 422.6h0M888.3 414.1h0M888.5 411.1h0M888.7 413.9h0M889.1 416.1h0M889.2 411.9h0M889.5 414.4h0M889.7 410.2h0M890.1 415.5h0M890.3 418.6h0M890.6 413.1h0M890.8 415h0M891.1 413h0M891.4 418.1h0M891.8 416.9h0M893.3 418.7h0M893.7 413.7h0M893.9 412.2h0M894.2 417.2h0M894.4 414.1h0M894.7 412.6h0M895.1 414.2h0M895.3 413.8h0M895.5 419.3h0M895.7 421.4h0M896.1 413.9h0M896.3 417.9h0M896.5 412.8h0M896.8 409.6h0M897.3 418.5h0M897.4 415h0M897.7 420.6h0M897.9 417.5h0M898.3 419h0M898.4 416.2h0M898.7 409.5h0M899.2 412.7h0M899.3 403.9h0M899.5 410.7h0M899.8 414.3h0M900.2 411h0M900.5 420.2h0M900.8 419.6h0M901 411.9h0M901.3 412.4h0M901.6 415.5h0M901.9 408.4h0M902.1 418.7h0M902.4 410.9h0M902.7 417h0M902.9 424.3h0M903.2 411.6h0M903.5 418.6h0M903.7 413.4h0M904 418h0M904.3 415.1h0M904.4 415h0M904.8 417.9h0M905.1 417.4h0M905.3 419.2h0M905.6 413.5h0M905.8 419.1h0M906.1 412.4h0M906.4 421.4h0M906.8 412.4h0M907.1 414.4h0M907.3 410h0M907.6 415.6h0M907.8 422.6h0M908 421.3h0M908.3 412.7h0M908.6 409.6h0M908.9 413.2h0M909.2 414.5h0M909.4 410.9h0M909.7 416.1h0M910.1 414.9h0M910.2 415h0M910.6 419.3h0M910.8 422.4h0M911.1 415.3h0M911.3 420.9h0M911.7 417.3h0M912 414.3h0M912.3 415.6h0M912.4 417.8h0M912.8 419.1h0M913 413.1h0M913.2 414.1h0M913.5 420.9h0M913.7 418.1h0M914.1 415.3h0M914.3 414.2h0M914.7 415.1h0M915 417.1h0M915.3 421.9h0M915.5 411.7h0M915.8 410.2h0M916 420.1h0M916.3 420.6h0M916.6 410.1h0M916.9 413.4h0M917.2 420.7h0M917.3 421.3h0M917.6 414.7h0M918 410.4h0M917.9 414.3h0M918.2 413.1h0M918.4 418h0M918.8 419.3h0M919 412.1h0M919.2 415.9h0M919.6 415.2h0M919.9 413.9h0M920.2 412.2h0M920.4 417.2h0M920.6 417.8h0M920.9 421.1h0M921.2 412.3h0M921.4 415.3h0M921.8 417.2h0M922.1 420.8h0M922.4 415.6h0M922.6 411h0M922.9 412.6h0M923.2 413.7h0M923.5 417.4h0M923.8 416.9h0M923.8 416.4h0M924.2 414.5h0M924.5 416.9h0M924.7 423h0M925.1 416.7h0M925.2 413h0M925.7 415.4h0M925.8 419.2h0M926.1 423.3h0M926.5 409.6h0M926.6 418.7h0M926.9 421.2h0M927.1 416.1h0M927.5 417.4h0M927.8 413.8h0M928.1 416.4h0M928.3 415.6h0M928.5 414.9h0M928.9 412.8h0M929.1 412.7h0M930.4 414.5h0M930.7 421h0M931 411.8h0M931.2 419.1h0M931.6 416.3h0M931.9 414.4h0M932.1 411.9h0M932.4 411.9h0M932.7 410h0M933 415.1h0M933.3 419h0M933.4 414.5h0M933.8 410.7h0M934.1 416.6h0M934.3 416.1h0M934.6 420h0M934.8 417.7h0M935.1 411.8h0M935.4 413h0M935.6 416.1h0M936 421.9h0M936.1 414.9h0M936.5 421h0M936.7 413.3h0M936.9 419.3h0M937.4 422h0M937.6 415.6h0M937.8 415.7h0M938.2 418.4h0M938.3 407.8h0M938.6 417.1h0M939 417.8h0M939.2 415.1h0M939.6 425.1h0M939.8 411.1h0M940 410.6h0M940.3 411.9h0M940.6 415h0M940.8 415.4h0M941.1 418.3h0M941.5 418h0M941.7 412.2h0M942 411.1h0M942.2 417.8h0M942.5 410.9h0M942.8 413.6h0M943 412.6h0M943.2 418.2h0M943.6 416.8h0M943.9 414.3h0M944.2 412.6h0M944.4 412.2h0M944.7 411.2h0M944.9 415.7h0M945.3 413.4h0M945.5 410h0M945.7 414.3h0M946.1 418.5h0M946.4 416.8h0M946.7 419h0M946.9 422.6h0M947 411.8h0M947.5 415.8h0M947.6 406.5h0M948 422.1h0M948.2 424.9h0M948.6 407.9h0M948.8 415.4h0M949.1 420.4h0M949.4 418h0M949.5 417.6h0M949.8 411.9h0M950.2 414.7h0M950.5 419.3h0M950.7 419.1h0M950.9 414.3h0M951.2 413.6h0M951.5 419.8h0M951.9 420.5h0M952 414.2h0M952.4 407.8h0M952.5 413.1h0M953 413.8h0M953.1 413.3h0M953.5 419.9h0M953.6 410.1h0M953.9 411.9h0M954.3 409.4h0M954.6 419.5h0M954.9 417.5h0M955.1 416.3h0M955.4 420.3h0M955.7 410.6h0M955.9 413.7h0M956.1 417.7h0M956.5 414.6h0M956.6 409.3h0M957 421h0M957.3 415.6h0M957.6 417.9h0M957.8 415.5h0M958.1 418.5h0M958.3 411.7h0M958.6 416.5h0M958.9 420.2h0M959.1 412.7h0M959.5 421.6h0M959.7 426.4h0M960 418.9h0M960.1 421.1h0M960.6 416h0M960.8 412.3h0M961.1 414h0M961.2 424h0M961.6 416.6h0M961.8 414.9h0M962.2 416h0M962.4 407h0M962.6 414.1h0M963 423.5h0M963.2 416h0M963.3 417.5h0M963.6 419.7h0M963.8 415.1h0M964.1 415.1h0M964.3 412.4h0M964.6 409.1h0M964.9 416.3h0M965.3 412.9h0M965.4 409.3h0M965.8 422.9h0M966.1 410.2h0M966.2 413.6h0M966.5 407.7h0M966.8 414.5h0M967.1 420.6h0M967.4 409.9h0M967.7 412.3h0M968 413.1h0M968.2 415.5h0M968.5 419h0M968.8 414.6h0M968.9 415.1h0M969.2 412.3h0M969.5 414h0M969.8 408.5h0M970.2 415.2h0M970.3 415.4h0M970.7 416.4h0M970.9 418.8h0M971.1 414.7h0M971.4 413.2h0M971.7 413.1h0M972 413h0M972.3 413h0M972.6 417.2h0M972.9 414.2h0M973.1 414.9h0M973.3 418.5h0M973.6 415h0M974 412.5h0M975.2 412.9h0M975.5 414.2h0M975.8 422.3h0M976.1 406.1h0M976.3 405.1h0M976.6 417.8h0M976.8 411.2h0M977.3 414.7h0M977.4 417.4h0M977.7 415.1h0M978 409.4h0M978.3 408.7h0M978.6 416.9h0M978.8 418.7h0M979.2 411.1h0M979.4 410h0M979.6 414.4h0M979.9 413.1h0M980.3 409.8h0M980.5 414.1h0M980.7 407.7h0M981 409.7h0M981.2 421.7h0M981.6 414.1h0M981.9 412.7h0M982 412.4h0M982.3 417.9h0M982.6 406.5h0M982.9 418.2h0M983.2 409.4h0M983.5 411.4h0M983.8 418.2h0M984 409.3h0M984.4 414.2h0M984.5 408.3h0M984.8 411.8h0M985.1 419h0M985.4 415.3h0M985.6 412h0M985.9 421.5h0M986.2 413.8h0M986.5 412.6h0M986.8 415h0M987 416.6h0M987.2 416.1h0M987.5 414.5h0M987.8 414.9h0M988.1 412.7h0M988.4 418.9h0M988.7 420.1h0M988.8 416.7h0M989.2 409.9h0M989.5 411.7h0M989.8 415.8h0M990.1 415.9h0M990.3 418h0M990.5 411.7h0M990.8 416.5h0M991.1 406.4h0M991.3 415.6h0M991.6 411.4h0M991.9 416.9h0M992.2 412.3h0M992.5 413.4h0M992.7 418.3h0M992.9 415.2h0M993.3 409.4h0M993.5 417.3h0M993.9 411.3h0M994.2 420.9h0M994.4 413.5h0M994.7 416.1h0M994.9 416.5h0M995.1 412.1h0M995.5 413.6h0M995.8 409.8h0M996.1 415.1h0M996.3 419.1h0M996.5 416.1h0M996.9 412.1h0M997 415.3h0M997.3 412.6h0M997.7 421.7h0M997.9 416.4h0M998.2 422.6h0M998.5 413.6h0M998.8 411.8h0M999.1 419.8h0M999.3 410.3h0M999.6 408.3h0M999.9 417.2h0M1000.2 410.8h0M1000.4 413.3h0M1000.7 411.3h0M1000.8 413.7h0M1001.2 414.9h0M1001.5 421.6h0M1001.7 416.4h0M1002 408.1h0M1002.4 412.3h0M1002.6 417.6h0M1002.8 415.2h0M1003.1 413.7h0M1003.4 414.9h0M1003.6 413.6h0M1004 413.3h0M1004.1 416.5h0M1004.4 412.1h0M1004.8 413.2h0M1005 411h0M1005.3 411.9h0M1005.5 419.3h0M1005.9 417.7h0M1006.2 413.6h0M1006.1 415.6h0M1006.5 421h0M1006.8 419.3h0M1007.1 415h0M1007.3 420h0M1007.7 420.5h0M1007.9 414.6h0M1008.1 414.7h0M1008.3 417.4h0M1008.7 418.9h0M1008.9 411.1h0M1009.3 413.1h0M1009.5 413.1h0M1009.8 414.3h0M1010 415.7h0M1010.3 416.6h0M1010.6 416.2h0M1010.8 416.5h0M1011.2 409.5h0M1011.3 420.5h0M1011.6 412.4h0M1012 416.3h0M1012.2 414h0M1012.5 413.7h0M1012.8 415.8h0M1013 415h0M1013.3 419.3h0M1013.6 421.4h0M1013.9 417.4h0M1014.1 418.3h0M1014.3 416.1h0M1014.7 418.9h0M1014.9 415.9h0M1015.1 415.6h0M1015.5 413.4h0M1015.8 419.6h0M1016.1 413.9h0M1016.2 410.1h0M1016.6 415.1h0M1016.8 415.9h0M1017.2 409.9h0M1017.3 410.4h0M1017.7 418.3h0M1018 419.5h0M1018.1 412.4h0M1018.5 419.9h0M1018.7 411.3h0M1018.9 414.9h0M1019.3 418.2h0M1019.5 417h0M1019.7 412.3h0M1021.2 423.3h0M1021.5 422.2h0M1021.7 413.2h0M1022 414.4h0M1022.3 415.6h0M1022.5 415.5h0M1022.8 417.9h0M1023.2 414.3h0M1023.3 412.4h0M1023.6 416.4h0M1023.9 411.2h0M1024.2 420.5h0M1024.5 415.1h0M1024.7 418.3h0M1025.1 415.5h0M1025.2 418.9h0M1025.5 411.6h0M1025.9 410.9h0M1026.2 412.4h0M1026.4 418.3h0M1026.7 418.2h0M1026.8 417.8h0M1027.3 416.3h0M1027.4 415.8h0M1027.8 416.2h0M1028 418.4h0M1028.3 409.1h0M1028.5 413.1h0M1028.8 412.9h0M1029.1 415.7h0M1029.4 416.8h0M1029.6 412.5h0M1029.9 420.6h0M1030.2 411.1h0M1030.4 421.1h0M1030.7 407.9h0M1031 424.9h0M1031.4 414.7h0M1031.5 412h0M1031.9 413h0M1032.2 414.6h0M1032.3 415.6h0M1032.7 413.5h0M1032.9 411h0M1033.2 415.8h0M1033.5 421.9h0M1033.7 411.9h0M1034.1 419.3h0M1034.3 418.9h0M1034.5 412.3h0M1034.9 420.8h0M1035 414.7h0M1035.3 417.4h0M1035.7 421.4h0M1035.9 414.2h0M1036.2 419.3h0M1036.5 410.9h0M1036.7 413.5h0M1037.1 424.3h0M1037.3 412.7h0M1037.6 414.4h0M1037.9 416.8h0M1038.1 410.8h0M1038.3 416h0M1038.6 422.8h0M1039 415.8h0M1039.1 412.2h0M1039.4 412.1h0M1039.8 419.5h0M1040.1 415h0M1040.3 412.3h0M1040.5 411.4h0M1040.9 414.2h0M1041 421.4h0M1041.4 419.9h0M1041.7 419.7h0M1042 408.8h0M1042.2 414.8h0M1042.6 416.5h0M1042.8 411.9h0M1043 409.2h0M1043.3 407.9h0M1043.5 410.8h0M1043.9 411.5h0M1044 406.2h0M1044.4 415.3h0M1044.7 417.9h0M1044.9 412.7h0M1045.2 416.6h0M1045.4 413.6h0M1045.7 413.6h0M1046.1 420h0M1046.4 412.2h0M1046.5 413.4h0M1046.9 414h0M1047.1 360.2h0M1047.4 361.3h0M1047.6 368.2h0M1047.8 366.8h0M1048.1 365.8h0M1048.5 363.6h0M1048.6 364.3h0M1048.9 360.7h0M1049.3 369.1h0M1049.6 351h0M1049.8 373.4h0M1050.1 364.7h0M1050.4 366.5h0M1050.6 353.1h0M1050.8 366.6h0M1051.2 363.1h0M1051.4 366.5h0M1051.8 359.6h0M1051.9 377.3h0M1052.2 361.3h0M1052.4 367.8h0M1052.7 370.6h0M1053 364.4h0M1053.4 362.1h0M1053.7 361h0M1053.8 366.2h0M1054.1 365.5h0M1054.4 374.1h0M1054.7 371.8h0M1054.9 364.6h0M1055.3 422h0M1055.6 422.9h0M1055.9 426.4h0M1056.1 421.6h0M1056.4 427.5h0M1056.6 427.1h0M1056.8 431.2h0M1057.2 427h0M1057.4 422h0M1057.6 431.9h0M1057.9 423.2h0M1058.2 423.8h0M1058.4 427.8h0M1058.8 426.5h0M1059.2 425.4h0M1059.4 426.4h0M1059.5 423.9h0M1059.9 429.3h0M1060.1 430h0M1060.5 428.8h0M1061.6 430h0M1061.9 426h0M1062 429.1h0M1062.3 429.3h0M1062.5 423.9h0M1062.9 423.5h0M1063.1 432.1h0M1063.5 425.1h0M1063.6 431.8h0M1063.9 428h0M1064.2 427h0M1064.5 427.4h0M1064.7 429.1h0M1065 427.9h0M1065.3 425.2h0M1065.6 423.3h0M1065.8 423.1h0M1066.1 429.3h0M1066.3 424.4h0M1066.7 427.8h0M1067.1 425.5h0M1067.2 427.6h0M1067.6 426h0M1067.8 421.4h0M1068 425.8h0M1068.4 426.9h0M1068.6 430.5h0M1068.9 426.5h0M1069.1 428.5h0M1069.5 425.8h0M1069.7 426.4h0M1070 429.2h0M1070.2 429.7h0M1070.6 430.8h0M1070.8 426.8h0M1071 427.3h0M1071.3 424h0M1071.7 428h0M1071.9 422.5h0M1072.1 426h0M1072.4 367.2h0M1072.7 372.3h0M1073 364h0M1073.3 364.9h0M1073.5 365.3h0M1073.7 365.4h0M1074 365.1h0M1074.4 364.9h0M1074.7 359.5h0M1074.8 352.1h0M1075.1 350.5h0M1075.3 354.3h0M1075.8 341.7h0M1076.1 348.1h0M1076.2 349.5h0M1076.5 354.9h0M1076.8 354.7h0M1077.1 345.7h0M1077.4 342.1h0M1077.7 341.1h0M1077.8 338.8h0M1078.2 334.7h0M1078.4 333.3h0M1078.7 343.1h0M1079 341.9h0M1079.2 334.7h0M1079.5 341.3h0M1079.8 344.8h0M1080 344.4h0M1080.4 339.7h0M1080.5 342.3h0M1080.8 345.9h0M1081.1 339.6h0M1081.3 335.9h0M1081.8 340.3h0M1081.9 334.6h0M1082.2 422.9h0M1082.6 418.4h0M1082.7 408.7h0M1083.1 407h0M1083.3 413.1h0M1083.6 410.8h0M1083.9 413.4h0M1084.1 413.6h0M1084.4 420.5h0M1084.6 412.7h0M1084.7 411.2h0M1085 418.1h0M1085.4 408h0M1085.6 411.4h0M1086 419.1h0M1086.1 409.7h0M1086.4 411.8h0M1086.7 414.1h0M1087 405.8h0M1087.2 415.5h0M1087.5 411.9h0M1087.9 411.2h0M1088.2 413.8h0M1088.3 417.5h0M1088.6 416.6h0M1088.8 413.1h0M1089.1 407.7h0M1089.5 414.2h0M1089.7 412h0M1090 416.4h0M1090.2 416.1h0M1090.5 411.1h0M1090.8 418.1h0M1091 416.7h0M1091.3 412.8h0M1091.7 406.6h0M1091.9 416.1h0M1092.1 408.8h0M1092.5 415.3h0M1092.8 414.1h0M1093 408.7h0M1093.2 408.7h0M1093.6 410.2h0M1093.8 416.4h0M1094 420.3h0M1094.4 415.8h0M1094.7 415h0M1096 411.8h0M1096.3 410.7h0M1096.5 410.5h0M1096.9 415.4h0M1097.1 411.4h0M1097.3 415.6h0M1097.7 418.2h0M1097.8 410h0M1098.2 423h0M1098.4 415.4h0M1098.7 411.7h0M1098.9 415.3h0M1099.3 413.7h0M1099.5 413h0M1099.8 416.3h0M1100.1 416.1h0M1100.4 411.2h0M1100.7 411h0M1100.8 412h0M1101.2 411.5h0M1101.4 405.8h0M1101.7 416.8h0M1101.9 410.3h0M1102.3 417.2h0M1102.6 411.2h0M1102.8 409.2h0M1103.1 413.3h0M1103.3 417.8h0M1103.6 415.8h0M1104 423.6h0M1104.1 415.7h0M1104.4 413.5h0M1104.7 410.1h0M1105 410.3h0M1105.3 412.3h0M1105.5 414.4h0M1105.8 415.1h0M1106 410.7h0M1106.3 413.2h0M1106.6 414.3h0M1107 416.5h0M1107.1 411h0M1107.4 412.5h0M1107.7 422.3h0M1107.9 409.3h0M1108.3 409.3h0M1108.4 413.9h0M1108.8 414.6h0M1109.2 411.8h0M1109.3 410.5h0M1109.7 415.3h0M1109.8 412.2h0M1110.2 418.4h0M1110.5 411.2h0M1110.7 412.3h0M1111 414.8h0M1111.2 413.3h0M1111.5 415.5h0M1111.9 414.7h0M1112 412.8h0M1112.3 414.8h0M1112.5 419.3h0M1112.8 415.8h0M1113.2 419.4h0M1113.4 412.7h0M1113.7 419.3h0M1113.9 407.7h0M1114.3 416.1h0M1114.5 410.9h0M1114.9 406.2h0M1115.1 401.9h0M1115.3 407.3h0M1115.7 406.6h0M1115.9 410.5h0M1116.1 405h0M1116.4 408.9h0M1116.7 410.7h0M1117 412.9h0M1117.3 409.5h0M1117.6 407.9h0M1117.7 415.2h0M1118.1 411.6h0M1118.3 413.5h0M1118.6 399.5h0M1118.9 406.5h0M1119.1 410h0M1119.2 409.5h0M1119.5 418.3h0M1119.7 415.6h0M1120 417.4h0M1120.4 413.3h0M1120.7 411.8h0M1120.9 417.3h0M1121.1 420.9h0M1121.4 418.4h0M1121.6 418.8h0M1122 408.1h0M1122.2 413.1h0M1122.4 409.9h0M1122.8 413.8h0M1123.1 405.2h0M1123.2 417.2h0M1123.5 408.2h0M1123.8 410.7h0M1124.1 417.9h0M1124.3 413.4h0M1124.6 414.3h0M1125 416.1h0M1125.3 410.6h0M1125.6 408.2h0M1125.9 418.7h0M1126.1 411.3h0M1126.4 415.8h0M1137.6 410.7h0M1137.9 421.6h0M1138 408.1h0M1138.3 412.5h0M1138.7 412.4h0M1138.9 405.8h0M1139.1 411.8h0M1139.4 407.1h0M1139.7 406.2h0M1140 409.9h0M1140.3 414.1h0M1140.5 417.4h0M1140.9 406.3h0M1141.1 409.8h0M1141.3 417.6h0M1141.7 416.5h0M1142 415.1h0M1142.2 413.8h0M1142.4 415.5h0M1142.7 415.9h0M1143 412.7h0M1143.3 417.1h0M1143.5 413.7h0M1143.7 413.6h0M1144 411h0M1144.4 412.7h0M1144.6 411.9h0M1144.8 417.4h0M1145.1 415.3h0M1145.3 411.3h0M1145.8 414.6h0M1146 415.1h0M1146.3 410.6h0M1146.5 414.8h0M1146.9 416.2h0M1147.1 409.5h0M1147.4 410.5h0M1147.5 415.7h0M1147.9 405.9h0M1148.2 407.1h0M1148.4 408.9h0M1148.7 411.7h0M1148.9 408.9h0M1149.2 420h0M1149.5 409.2h0M1149.9 415.6h0M1150.1 412.9h0M1150.3 411.2h0M1150.6 415.8h0M1150.9 414.5h0M1151.2 415.5h0M1151.3 419.7h0M1151.7 412.7h0M1152 412.5h0M1152.3 413.3h0M1152.6 416.2h0M1152.8 405.7h0M1153.1 415.2h0M1153.3 416.4h0M1153.6 417.1h0M1153.9 413h0M1154.1 416.3h0M1154.5 416.1h0M1154.6 411.3h0M1154.9 414.4h0M1155.1 413.2h0M1155.5 407.9h0M1155.7 408.7h0M1156 412.5h0M1156.3 414.1h0M1156.6 422h0M1156.8 407.4h0M1157.2 409.7h0M1157.4 408.7h0M1157.7 413.2h0M1158 415h0M1158.1 413.1h0M1158.4 416.4h0M1158.7 415.2h0M1158.9 408.3h0M1159.2 402.6h0M1159.5 411.5h0M1159.8 409.1h0M1160 411h0M1160.5 410.1h0M1160.7 416.2h0M1161 408.5h0M1161.3 413.2h0M1161.4 406.1h0M1162.9 410.1h0M1163.2 418.6h0M1163.4 411.3h0M1163.7 417.2h0M1163.9 414.5h0M1164.1 412h0M1164.4 419.3h0M1164.7 406.5h0M1164.9 411h0M1165.3 410.3h0M1165.6 418.1h0M1165.9 415.9h0M1166.1 414.4h0M1166.4 412.2h0M1166.7 416.9h0M1167 416.4h0M1167.3 410.5h0M1167.4 414.7h0M1167.7 408.7h0M1168.1 411.1h0M1168.2 415.8h0M1168.6 410.3h0M1168.8 412.1h0M1169.1 408.5h0M1169.3 404.4h0M1169.7 415.7h0M1169.9 415h0M1170.2 410.2h0M1170.5 413h0M1170.7 411h0M1171 410.8h0M1171.2 413.1h0M1171.6 415.5h0M1171.8 413.3h0M1172.1 414.1h0M1172.3 415.7h0M1172.6 413.1h0M1172.9 415.7h0M1173.2 421.4h0M1173.4 411.1h0M1173.7 409.1h0M1174 413.5h0M1174.2 415.1h0M1174.5 408.1h0M1174.9 415.1h0M1175.2 417.1h0M1175.4 418.5h0M1175.6 419.6h0M1176 416.3h0M1176.1 414.4h0M1176.5 414.9h0M1176.7 413.4h0M1177 414.7h0M1177.3 410.1h0M1177.5 411.7h0M1177.8 409.8h0M1178.2 414.7h0M1178.4 419.8h0M1178.6 414.3h0M1178.9 415h0M1179.2 412.7h0M1179.5 415.4h0M1179.7 413.4h0M1180 404.9h0M1180.2 415.2h0M1180.5 416.1h0M1180.8 414.6h0M1181.2 410.4h0M1181.4 413.3h0M1181.6 411.4h0M1181.9 411.6h0M1182.1 411.7h0M1182.5 419.2h0M1182.7 411.7h0M1182.9 418.5h0M1183.4 412.1h0M1183.5 412h0M1183.8 414.1h0M1184.1 411.4h0M1184.3 410.8h0M1184.7 417.9h0M1184.9 409.9h0M1185.1 409.9h0M1185.4 418.3h0M1185.8 416.6h0M1185.9 415h0M1186.2 418h0M1186.6 418h0M1186.8 410.9h0M1187 415.2h0M1187.4 417.5h0M1187.6 413.2h0M1188 408.1h0M1188.1 417.9h0M1188.4 408h0M1188.8 408.7h0M1188.9 415.2h0M1189.3 409h0M1189.6 409.8h0M1189.8 417.8h0M1190 410.2h0M1190.4 407.5h0M1190.7 402.1h0M1190.9 411.7h0M1191.1 420.5h0M1191.4 413.8h0M1191.7 409.5h0M1191.9 412h0M1192.2 407.3h0M1192.4 413.2h0M1192.9 427.4h0M1193.1 420.3h0M1193.3 410.4h0M1193.6 420.9h0M1194 410.3h0M1194.1 410.5h0M1194.5 419.8h0M1194.7 414.4h0M1194.9 413.4h0M1195.2 413.5h0M1195.6 409.2h0M1195.7 415.4h0M1196.1 413h0M1196.4 413.9h0M1196.6 411.9h0M1196.9 417.4h0M1198.2 415.2h0M1198.6 414.5h0M1198.9 412.9h0M1199.1 413.2h0M1199.3 412.3h0M1199.6 406.6h0M1199.8 407.2h0M1200.1 411.1h0M1200.5 408.4h0M1200.7 415.5h0M1200.9 414h0M1201.3 416.2h0M1201.4 417.2h0M1201.7 420.1h0M1202.1 410.6h0M1202.3 416.8h0M1202.5 413.5h0M1202.8 421h0M1203.2 407.9h0M1203.4 406.5h0M1203.7 415.4h0M1203.9 411.3h0M1204.2 414.4h0M1204.5 416.8h0M1204.8 409.6h0M1205 414.7h0M1205.3 411.4h0M1205.6 410.5h0M1205.8 417.7h0M1206.2 406.8h0M1206.4 416.7h0M1206.7 415.3h0M1206.9 416.5h0M1207.2 406.4h0M1207.5 416.2h0M1207.8 414.7h0M1208 410.3h0M1208.4 414.8h0M1208.7 419.3h0M1208.9 413h0M1209.1 408.1h0M1209.5 420.1h0M1209.7 414.4h0M1210 417.8h0M1210.3 413h0M1210.5 411.7h0M1210.7 418.9h0M1211.2 412.4h0M1211.4 412.2h0M1211.7 413.7h0M1211.8 418.7h0M1212.2 410.1h0M1212.4 420.4h0M1212.7 419h0M1212.9 411.1h0M1213.3 415.8h0M1213.5 417.2h0M1213.7 419h0M1214.1 406.4h0M1214.3 411.1h0M1214.6 412.2h0M1214.9 411.5h0M1215.3 406.3h0M1215.3 412.2h0M1215.7 411.5h0M1216.1 412.1h0M1216.3 408.7h0M1216.5 411h0M1216.7 411.9h0M1217 413.7h0M1217.2 409.3h0M1217.4 404.3h0M1217.7 410.1h0M1218.1 409.5h0M1218.4 412.7h0M1218.6 410.8h0M1218.8 414.8h0M1219 414h0M1219.3 415.1h0M1219.6 415.5h0M1219.9 418.1h0M1220.1 408.8h0M1220.5 410.8h0M1220.7 408.6h0M1221 412.8h0M1221.3 408.9h0M1221.5 414h0M1221.7 407.9h0M1222.1 415.1h0M1222.3 408.6h0M1222.6 416.7h0M1223 418.2h0M1223.1 411.1h0M1223.5 411.5h0M1223.8 413.3h0M1224 419.2h0M1224.3 411.7h0M1224.5 413.9h0M1224.8 412.3h0M1225.1 410.4h0M1226.3 409.9h0M1226.5 412.5h0M1226.7 410.8h0M1227 420.5h0M1227.2 417.9h0M1227.4 415.6h0M1227.7 411h0M1228.1 405.4h0M1228.4 416.8h0M1228.7 414.8h0M1228.9 409.3h0M1229.2 410.5h0M1229.4 414.3h0M1229.7 415.2h0M1229.9 413.3h0M1230.3 407.4h0M1230.5 412.8h0M1230.7 407.9h0M1231 409.3h0M1231.4 409.9h0M1231.7 410h0M1231.9 412.9h0M1232.1 410.2h0M1232.4 407.4h0M1232.7 417.2h0M1233.1 409.1h0M1233.4 408.9h0M1233.5 412.9h0M1233.8 409.9h0M1234.1 414.4h0M1234.3 416.2h0M1234.6 412.2h0M1234.9 415.6h0M1235.3 412.1h0M1235.4 411.3h0M1235.8 408.7h0M1236.1 417.2h0M1236.4 414.7h0M1236.6 414.4h0M1236.8 402.7h0M1237.1 410.7h0M1237.3 412.7h0M1237.6 416.5h0M1237.8 410.9h0M1238.1 412.8h0M1238.4 401.8h0M1238.8 419.8h0M1239 410.5h0M1239.3 412.2h0M1239.6 413.6h0M1239.8 407.9h0M1240.2 411h0M1240.4 418.2h0M1240.6 418.4h0M1240.9 410.8h0M1241.3 413.2h0M1241.5 409.7h0M1241.7 414.5h0M1242 412.3h0M1242.2 419.5h0M1242.6 417.5h0M1242.8 404.8h0M1243.1 413.9h0M1243.4 416.2h0M1243.7 409.2h0M1243.8 417.8h0M1244.1 417.8h0M1244.4 408.7h0M1244.8 417.1h0M1245 416.6h0M1245.3 404.4h0M1245.6 410.8h0M1245.7 411.6h0M1246 416.8h0M1246.3 419.4h0M1246.6 413.6h0M1246.9 409.6h0M1247.2 414.4h0M1247.4 413.9h0M1247.7 414.2h0M1248.1 425.1h0M1248.3 418h0M1248.6 418.3h0M1253.4 406h0M1253.6 407.9h0M1253.8 406h0M1254.1 411h0M1254.3 410.3h0M1254.6 409.2h0M1254.8 411.7h0M1255.3 412.9h0M1255.5 412.2h0M1255.8 412.2h0M1256 407.8h0M1256.2 411.1h0M1256.6 415.4h0M1256.8 407h0M1257.2 408.1h0M1257.3 410.7h0M1257.6 407.8h0M1258 413.7h0M1258.3 420.2h0M1258.4 414.4h0M1258.7 408.7h0M1259 413.9h0M1259.3 403h0M1259.5 405.9h0M1259.8 405.6h0M1260.2 415.6h0M1260.3 410.1h0M1260.6 404h0M1261 419.5h0M1261.1 404.6h0M1261.4 406h0M1261.7 410.6h0M1262 409.9h0M1262.2 411.7h0M1262.6 407.3h0M1262.9 409.7h0M1263.1 408.9h0M1263.3 414.4h0M1263.7 407.8h0M1264 411.4h0M1264.2 415.3h0M1264.4 415.8h0M1264.8 419.9h0M1265.1 416.6h0M1265.3 418.4h0M1265.5 415.7h0M1265.8 422.9h0M1266.1 423.4h0M1266.3 418.7h0M1266.6 414.6h0M1267 409.8h0M1267.3 414.7h0M1267.4 418.6h0M1267.8 419.3h0M1268 418h0M1268.2 417.8h0M1268.6 414.2h0M1268.8 409.4h0M1269.2 408.2h0M1269.4 414.9h0M1269.6 415.3h0M1270 413.5h0M1270.2 408.1h0M1270.5 405.4h0M1270.6 409.6h0M1271 408.2h0M1271.3 414.2h0M1271.6 415.6h0M1271.8 409h0M1272.2 407.4h0M1272.4 413.6h0M1272.7 412.5h0M1272.8 412.5h0M1273.2 417h0M1273.5 412.9h0M1273.7 411h0M1274 409.9h0M1274.2 417.8h0M1274.6 409.8h0M1274.9 410h0M1275.2 420.7h0M1275.4 420.2h0M1275.6 412.8h0M1280.7 418.2h0M1280.9 419.2h0M1281.2 408.5h0M1281.5 419.3h0M1281.8 415h0M1282 416.1h0M1282.3 415.7h0M1282.4 410.9h0M1282.7 415.8h0M1283 415.1h0M1283.3 421.8h0M1283.5 417.5h0M1283.9 416.4h0M1284.2 413.2h0M1284.4 413.3h0M1284.7 414.6h0M1285 415.7h0M1285.2 420.5h0M1285.6 410h0M1285.8 415.7h0M1286.1 407.3h0M1286.4 417.8h0M1286.6 416.9h0M1287 419.7h0M1287.2 407h0M1287.5 420h0M1287.8 420.6h0M1287.9 411.3h0M1288.2 414.7h0M1288.5 415.1h0M1288.8 409.4h0M1289.1 421h0M1289.4 406.8h0M1289.6 411.7h0M1289.9 416.7h0M1290.1 414.6h0M1290.5 412.1h0M1290.7 410.8h0M1291 409.1h0M1291.3 410.9h0M1291.5 416h0M1291.9 410.8h0M1292.1 418h0M1292.2 413.8h0M1292.6 415.4h0M1293 417.4h0M1293.2 411.3h0M1293.5 412.6h0M1293.6 415.3h0M1293.9 419h0M1294.2 417.1h0M1294.5 414.1h0M1294.7 413.9h0M1295.1 414.1h0M1295.4 415.4h0M1295.7 410.9h0M1295.8 409.3h0M1296.1 418.5h0M1296.5 414h0M1296.7 416h0M1297 412.5h0M1297.2 416.6h0M1297.5 415.2h0M1297.8 415.3h0M1298.1 411.9h0M1298.4 416.1h0M1298.6 415.9h0M1299 410.5h0M1299.1 414.6h0M1299.3 416.2h0M1299.8 415.7h0M1300 414.9h0M1300.3 407.5h0M1300.5 417.4h0M1300.7 420.1h0M1301 414.7h0M1301.4 425.4h0M1306.3 418.1h0M1306.5 415.8h0M1307 417.6h0M1307.2 411.9h0M1307.5 418.3h0M1307.7 419.4h0M1308 420.1h0M1308.2 412.6h0M1308.6 414.7h0M1308.7 420.2h0M1309 406.7h0M1309.3 413h0M1309.6 423.2h0M1309.9 413.4h0M1310.1 416.7h0M1310.5 413h0M1310.6 417.3h0M1310.9 414.6h0M1311.2 415h0M1311.6 420.6h0M1311.7 414.2h0M1312.1 416.3h0M1312.3 412.4h0M1312.5 421h0M1312.9 412.1h0M1313.1 417.3h0M1313.4 417h0M1313.8 417.6h0M1313.9 423.1h0M1314.3 416.9h0M1314.4 413.9h0M1314.7 415.6h0M1315 415.4h0M1315.3 417.1h0M1315.7 414h0M1315.8 419.2h0M1316.2 415.3h0M1316.4 416.1h0M1316.8 416h0M1317 410.3h0M1317.2 409.1h0M1317.4 414h0M1317.7 414.2h0M1318.1 418.3h0M1318.4 412.4h0M1318.6 419.7h0M1318.9 410.1h0M1319.2 412.2h0M1319.4 413.8h0M1319.7 419.6h0M1320.1 414.2h0M1320.2 416.7h0M1320.6 418.2h0M1320.8 412.8h0M1321.2 414.9h0M1321.4 413.2h0M1321.5 420.2h0M1321.9 415.8h0M1322.1 412.1h0M1322.4 415.6h0M1322.8 415.5h0M1322.9 410.2h0M1323.2 413.7h0M1323.6 415.4h0M1323.7 418.3h0M1324 409.4h0M1324.4 421.3h0M1324.6 410.2h0M1325 419.6h0M1325.3 411.2h0M1325.5 416h0M1325.8 416.7h0M1326 419.9h0M1326.2 417.6h0M1326.5 412.2h0M1326.8 422.2h0M1327.1 421.2h0M1327.3 416.5h0M1327.7 417.5h0M1328 410h0M1328.3 419h0M1328.4 415.9h0M1328.8 418.9h0M1329 413.7h0M1329.2 414.6h0M1329.5 422h0M1329.9 418.2h0M1330.1 413.3h0M1330.4 416.6h0M1330.7 416.2h0M1330.9 418.5h0M1331.2 424.2h0M1331.4 415.4h0M1331.8 417.7h0M1332 420.2h0M1332.2 407.3h0M1332.6 422h0M1332.8 419.3h0M1333.1 421.3h0M1333.4 417.4h0M1333.6 423.9h0M1333.9 418.2h0M1336.9 420.5h0M1337.2 412.8h0M1337.6 417.8h0M1337.7 418.6h0M1337.9 410.5h0M1338.2 413.7h0M1338.6 410.7h0M1338.8 413.8h0M1339.1 420.2h0M1339.3 410.3h0M1339.7 410.3h0M1340 419.8h0M1340.2 419.2h0M1340.4 413h0M1340.7 420.3h0M1341 415.6h0M1341.4 420h0M1341.5 416.5h0M1341.8 415.2h0M1342.2 415.4h0M1342.4 418.7h0M1342.6 418.2h0M1343 418.7h0M1343.2 412.7h0M1343.5 413.3h0M1343.7 414.1h0M1344.1 415.5h0M1344.3 418h0M1344.5 420h0M1344.8 417.3h0M1345.1 419.9h0M1345.5 413.4h0M1345.7 415.9h0M1345.8 415.8h0M1346.1 415.2h0M1346.4 411.7h0M1346.8 407.5h0M1347.1 416.9h0M1347.3 414.8h0M1347.5 413.4h0M1347.7 416.2h0M1348.1 417.1h0M1348.3 409.7h0M1348.6 413.5h0M1348.9 419.2h0M1349.1 416.8h0M1349.4 415.8h0M1349.5 410.5h0M1350 415.2h0M1350.2 415h0M1350.5 414.4h0M1350.7 409.1h0M1350.9 407.8h0M1351.3 414h0M1351.6 410.5h0M1351.8 407.5h0M1352.2 410.9h0M1352.3 419.5h0M1353.2 420h0M1353.5 411.6h0M1353.8 416.3h0M1354.1 412.8h0M1354.2 413.7h0M1354.5 412.8h0M1354.8 416.1h0M1355.1 418.4h0M1355.3 408.8h0M1355.5 407.8h0M1355.8 416.2h0M1356.2 415.6h0M1356.5 411.6h0M1356.6 416.5h0M1357 415.6h0M1357.3 414.5h0M1357.5 413.4h0M1357.7 413.1h0M1358.2 419.2h0M1358.3 409.5h0M1358.7 419.5h0M1359 414.9h0M1359.2 410.8h0M1359.4 416.4h0M1359.7 415.3h0M1360 412.6h0M1360.2 416.4h0M1360.5 410.8h0M1360.9 417.8h0M1361 405.7h0M1361.4 415.3h0M1361.6 417.6h0M1361.8 415.3h0M1362.2 409.1h0M1362.5 420.8h0M1362.7 415.1h0M1362.9 409.9h0M1363.4 414.1h0M1363.5 410.9h0M1363.8 410.9h0M1364.1 411.5h0M1364.4 411.8h0M1364.6 410.9h0M1364.8 410.4h0M1365.1 410.2h0M1365.5 405.3h0M1365.7 405.5h0M1366.1 414.3h0M1366.4 412.7h0M1366.5 415.7h0M1366.7 411.1h0M1367.1 409h0M1367.2 412.8h0M1367.4 412.7h0M1367.8 422h0M1368 416.3h0M1368.3 414.5h0M1368.5 418h0M1368.8 415.8h0M1369.2 419.8h0M1369.5 418.4h0M1369.8 408.8h0M1369.9 411.7h0M1370.8 411.9h0M1371.2 417.8h0M1371.3 416.8h0M1371.5 413.9h0M1371.9 416.6h0M1372.1 413.5h0M1372.5 410.3h0M1372.7 419.5h0M1373.1 418h0M1373.3 415h0M1373.5 418.2h0M1373.9 416.4h0M1374 417.3h0M1374.3 409.8h0M1374.7 414.7h0M1374.9 413.3h0M1375.1 413.2h0M1375.5 416.9h0M1375.8 416.8h0M1376 413.4h0M1376.3 411.9h0M1376.5 418.1h0M1376.8 412.1h0M1377.2 409.7h0M1377.3 415.5h0M1377.6 417.3h0M1378 413.5h0M1378.1 413.1h0M1378.5 410.1h0M1378.7 412.2h0M1379 418h0M1379.2 416h0M1379.6 417.5h0M1379.7 410.4h0M1380.2 414.5h0M1380.4 412.5h0M1380.7 413h0M1380.9 413.6h0M1381.2 410.7h0M1381.5 411.8h0M1381.6 414.1h0M1382 417.3h0M1382.3 419.1h0M1382.6 418.5h0M1382.7 414.9h0M1383 420h0M1383.3 412h0M1383.6 414.8h0M1383.9 412.9h0M1384.2 408h0M1384.4 415h0M1384.6 411.7h0M1385 415.9h0M1385.2 418h0M1385.5 417h0M1385.8 417.3h0M1386 417.7h0M1386.3 419.6h0M1386.6 417.5h0M1386.8 419.3h0M1387 419.2h0M1387.5 415.3h0M1387.7 417h0M1387.9 416.4h0M1388.2 422.4h0M1388.5 419h0M1388.8 417.5h0M1389.1 416.1h0M1389.2 419.7h0M1389.7 417.1h0M1389.9 411.5h0M1390.1 419.4h0M1390.4 414.3h0M1390.6 417.9h0M1391.8 414.9h0M1392.1 420.6h0M1392.3 414.5h0M1392.5 421.6h0M1392.8 419.8h0M1393.2 423.5h0M1393.4 417.3h0M1393.6 421h0M1394 413.2h0M1394.3 407.7h0M1394.5 421.7h0M1394.9 420.1h0M1395 414h0M1395.4 420.8h0M1395.6 419.8h0M1395.8 414.7h0M1396.2 424h0M1396.5 419.8h0M1396.8 416.8h0M1397 422.6h0M1397.3 412.6h0M1397.6 413.9h0M1397.7 416.7h0M1398.1 415.5h0M1398.4 416.7h0M1398.6 419.7h0M1398.8 420.2h0M1398.9 413.1h0M1399.3 410.5h0M1399.5 421h0M1399.9 412.8h0M1400.1 412.8h0M1400.4 413.1h0M1400.7 415.3h0M1401 410.8h0M1401.2 416.7h0M1401.5 419.5h0M1401.6 415.9h0M1402 418.2h0M1402.3 411.7h0M1402.6 412.4h0M1402.9 415.7h0M1403 419.9h0M1403.3 412.2h0M1403.5 414.7h0M1403.9 421.4h0M1404.1 418.7h0M1404.5 409.6h0M1404.8 421.1h0M1405 409.1h0M1406.2 414h0M1406.3 414.6h0M1406.6 413.4h0M1406.9 413.4h0M1407.2 419.2h0M1407.5 416.5h0M1407.7 417.1h0M1407.9 411.1h0M1408.3 417.2h0M1408.4 422.2h0M1408.9 417.7h0M1409.1 416.1h0M1409.4 428h0M1409.7 423.9h0M1409.9 418.4h0M1410.1 410h0M1410.3 414.6h0M1410.8 416.9h0M1411 413.6h0M1411.3 411.6h0M1411.6 417.8h0M1411.9 421.1h0M1412.2 411.8h0M1412.3 416.1h0M1412.6 416.6h0M1412.9 419.1h0M1413.2 412.4h0M1413.5 417h0M1413.7 414.8h0M1417.6 414h0M1417.7 416.1h0M1418 408.2h0M1418.4 421.3h0M1418.6 416.7h0M1418.9 419.3h0M1419.1 419.2h0M1419.4 419.4h0M1419.7 410.7h0M1420 410.8h0M1420.2 408.1h0M1420.5 421.5h0M1420.8 411.6h0M1421 413.5h0M1421.4 417h0M1421.5 413.5h0M1421.8 417.8h0M1422.1 417.6h0M1422.3 416.6h0M1422.7 413.3h0M1423 408.2h0M1423.1 422.4h0M1423.4 418.9h0M1423.8 420.2h0M1424.1 410.3h0M1424.3 407.6h0M1424.6 415h0M1424.8 414h0M1425.1 415.5h0M1429.1 415.3h0M1429.4 420.5h0M1429.8 419h0M1429.9 415.9h0M1430.3 416.5h0M1430.5 409.1h0M1430.8 413.8h0M1431.1 410.4h0M1431.4 414.2h0M1431.7 418.8h0M1431.9 412.9h0M1432.2 421.4h0M1432.4 420.5h0M1432.6 416h0M1433.1 416.9h0M1433.3 419.6h0M1433.5 416.2h0M1433.8 407.2h0M1434.1 415.4h0M1434.3 416.4h0M1434.6 413.7h0M1434.9 411.9h0M1435.2 414.9h0M1435.4 422.2h0M1435.7 413.2h0M1435.9 415.8h0M1436.3 419.1h0M1436.5 411.1h0M1436.7 412.9h0M1437 415.8h0M1437.3 416.6h0M1437.6 416.6h0M1437.8 425.2h0M1438.1 425.5h0M1438.4 430.8h0M1438.7 429.8h0M1438.8 425.5h0M1439.2 429.4h0M1439.4 426.3h0M1439.7 426.4h0M1439.9 426.4h0M1440.3 429.5h0M1440.5 425.5h0M1440.8 428.6h0M1441 430.7h0M1441.3 424.4h0M1441.6 428h0M1441.9 427.9h0M1442.2 430.4h0M1442.4 425.1h0M1442.7 426.2h0M1443 425.1h0M1443.2 424.3h0M1443.6 427.5h0M1443.7 429.9h0M1444 424.7h0M1444.3 425.3h0M1444.6 431.1h0M1444.9 428.5h0M1445.1 427.6h0M1445.4 429h0M1445.6 431.9h0M1446 426.8h0M1446.3 426.6h0M1446.5 425.3h0M1446.8 427.6h0M1447.1 426.5h0M1447.4 422.2h0M1447.6 426.4h0M1447.8 430.7h0M1448.1 426.1h0M1448.5 429.1h0M1448.8 422.6h0M1448.9 429.3h0M1449.3 428.7h0M1449.6 425.6h0M1449.7 425.9h0M1450.1 430.2h0M1450.3 423.8h0M1450.7 424.3h0M1450.8 428.4h0M1451.2 424.9h0M1452.3 426.2h0M1452.6 422.5h0M1452.8 423.2h0M1453.2 424.8h0M1453.3 426.6h0M1453.5 422.6h0M1453.9 425.5h0M1454.2 426h0M1454.3 421h0M1454.8 423.3h0M1455 425.5h0M1455.2 427.7h0M1455.6 425h0M1455.8 432.4h0M1456 425.5h0M1456.3 426.8h0M1456.5 422.8h0M1456.9 425h0M1457.1 427.5h0M1457.5 424.8h0M1457.8 425h0M1458 423.6h0M1458.1 424.4h0M1458.6 428.6h0M1458.8 422.4h0M1459 426.9h0M1459.4 426.6h0M1459.6 427.3h0M1459.9 427.7h0M1460.1 427.5h0M1460.4 426h0M1460.7 424.6h0M1461 427.3h0M1461.2 428.3h0M1461.5 424.2h0M1461.8 428.1h0M1462 430h0M1462.4 424.2h0M1462.6 423h0M1462.9 425.6h0M1463.1 430.4h0M1463.5 427h0M1463.7 426.4h0M1463.9 425.1h0M1464.2 427.9h0M1464.6 428.5h0M1464.8 431.2h0M1465.1 428.2h0M1465.3 425.7h0M1465.7 428.4h0M1465.8 420.5h0M1466.2 427h0M1466.5 428.4h0M1466.7 429.6h0M1466.9 425.9h0M1467.3 426.6h0M1467.6 424.1h0M1467.8 430h0M1468 424.2h0M1468.4 426.4h0M1468.7 423.8h0M1469 429.3h0M1469.1 429.4h0M1469.5 425.8h0M1469.7 430.1h0M1469.9 427.7h0M1470.2 423.9h0M1470.6 431.2h0M1470.7 425.8h0M1471 428.3h0M1471.4 430.8h0M1471.5 429h0M1471.8 425.6h0M1472.2 425.9h0M1472.4 428.8h0M1472.7 427.4h0M1473 428.6h0M1473.3 430.3h0M1473.6 426.2h0M1473.9 423.2h0M1474 426.7h0M1475.2 425.8h0M1475.3 428.1h0M1475.6 426.7h0M1476 426.9h0M1476.2 422.6h0M1476.6 421.8h0M1477.6 426.6h0M1477.8 423.5h0M1478.2 422.1h0M1478.5 423.4h0M1478.8 427.5h0M1479 427.8h0M1479.2 428.2h0M1479.6 427.6h0M1479.8 423.2h0M1480.1 422.8h0M963.4 393.4h0M1469 435.6h0" stroke="#708090" stroke-width="4.5" stroke-linecap="round" fill="none"/><polyline points="754.1,413.7 813.3,413.7 813.3,414.4 871.2,414.4 871.2,415.3 917.7,415.3 917.7,415 963.3,415 963.3,413.9 1006.5,413.9 1006.5,415 1047,415 1047,367.6 1055,367.6 1055,426.9 1072.2,426.9 1072.2,365.8 1074.8,365.8 1074.8,353.1 1077.3,353.1 1077.3,340.6 1082,340.6 1082,413.9 1084.6,413.9 1084.6,413.7 1114.5,413.7 1114.5,408.6 1119.2,408.6 1119.2,413.7 1152.7,413.7 1152.7,413.2 1248.7,413.2 1252,411.4 1264.5,411.4 1264.5,417.2 1268.5,417.2 1268.5,412.3 1276.5,412.3 1280,415.2 1300.5,415.2 1301.3,421.8 1307.4,415.2 1325.5,415.2 1325.5,415.8 1346.8,415.8 1346.8,413.9 1366.3,413.9 1366.3,415.2 1384.9,415.2 1384.9,417.6 1398.2,417.6 1398.2,416.1 1413.2,416.1 1413.2,414.9 1425.7,414.9 1429,415.6 1437.7,415.6 1437.7,426.9 1480.4,426.9" stroke="#ff7f0e" stroke-width="3.1" fill="none" stroke-linejoin="miter"/><path d="M813.2 325.2V445.3M870.9 325.2V445.3M917.9 325.2V445.3M963.2 325.2V445.3M1006.1 325.2V445.3M1046.7 325.2V445.3M1084.5 325.2V445.3M1119.2 325.2V445.3M1152.7 325.2V445.3M1184.8 325.2V445.3M1216.9 325.2V445.3M1248.6 325.2V445.3M1275.9 325.2V445.3M1301.4 325.2V445.3M1325.7 325.2V445.3M1347.1 325.2V445.3M1366.4 325.2V445.3M1384.9 325.2V445.3M1398.9 325.2V445.3M1413.9 325.2V445.3M1425.3 325.2V445.3M1437.5 325.2V445.3M1474.3 325.2V445.3" stroke="#000" stroke-opacity="0.3" stroke-width="1" stroke-dasharray="1.3 1.3" fill="none"/><rect x="754.5" y="325.2" width="726" height="120.1" fill="none" stroke="#3a3a3a" stroke-width="1.2"/><path d="M754.5 445.3h-2.6M754.5 415.3h-2.6M754.5 385.3h-2.6M754.5 355.3h-2.6M754.5 325.3h-2.6" stroke="#3a3a3a" stroke-width="1.2"/><g font-size="20.5"><text x="750.2" y="452.7" text-anchor="end">0</text><text x="750.2" y="422.7" text-anchor="end">2</text><text x="750.2" y="392.7" text-anchor="end">4</text><text x="750.2" y="362.7" text-anchor="end">6</text><text x="750.2" y="332.7" text-anchor="end">8</text><text x="784.6" y="466.1" text-anchor="middle">1</text><text x="895.3" y="466.1" text-anchor="middle">3</text><text x="985.6" y="466.1" text-anchor="middle">5</text><text x="1066.5" y="466.1" text-anchor="middle">7</text><text x="1136.8" y="466.1" text-anchor="middle">9</text><text x="1201.7" y="466.1" text-anchor="middle">11</text><text x="1263.1" y="466.1" text-anchor="middle">13</text><text x="1314.4" y="466.1" text-anchor="middle">15</text><text x="1357.6" y="466.1" text-anchor="middle">17</text><text x="1392" y="466.1" text-anchor="middle">19</text><text x="1420.5" y="466.1" text-anchor="middle">21</text><text x="1456.2" y="466.1" text-anchor="middle">X</text><text x="1478.2" y="466.1" text-anchor="middle">Y</text><text x="1111.2" y="495.3" text-anchor="middle" textLength="125" lengthAdjust="spacingAndGlyphs">Chromosome</text><text transform="translate(729.2 388.5) rotate(-90)" text-anchor="middle" textLength="123.4" lengthAdjust="spacingAndGlyphs">Copy number</text></g><text x="1106.8" y="312.9" font-size="25.3" text-anchor="middle" textLength="154" lengthAdjust="spacingAndGlyphs">Fibrous tissue</text>
<text x="7.9" y="31.2" font-size="40.5" font-weight="bold">a</text>
<text x="667" y="31" font-size="41" font-weight="bold">b</text>
<text x="180.6" y="504" font-size="28.8" text-anchor="middle">Before</text>
<text x="494.4" y="504" font-size="28.8" text-anchor="middle">After</text>
</svg>
</body></html>
